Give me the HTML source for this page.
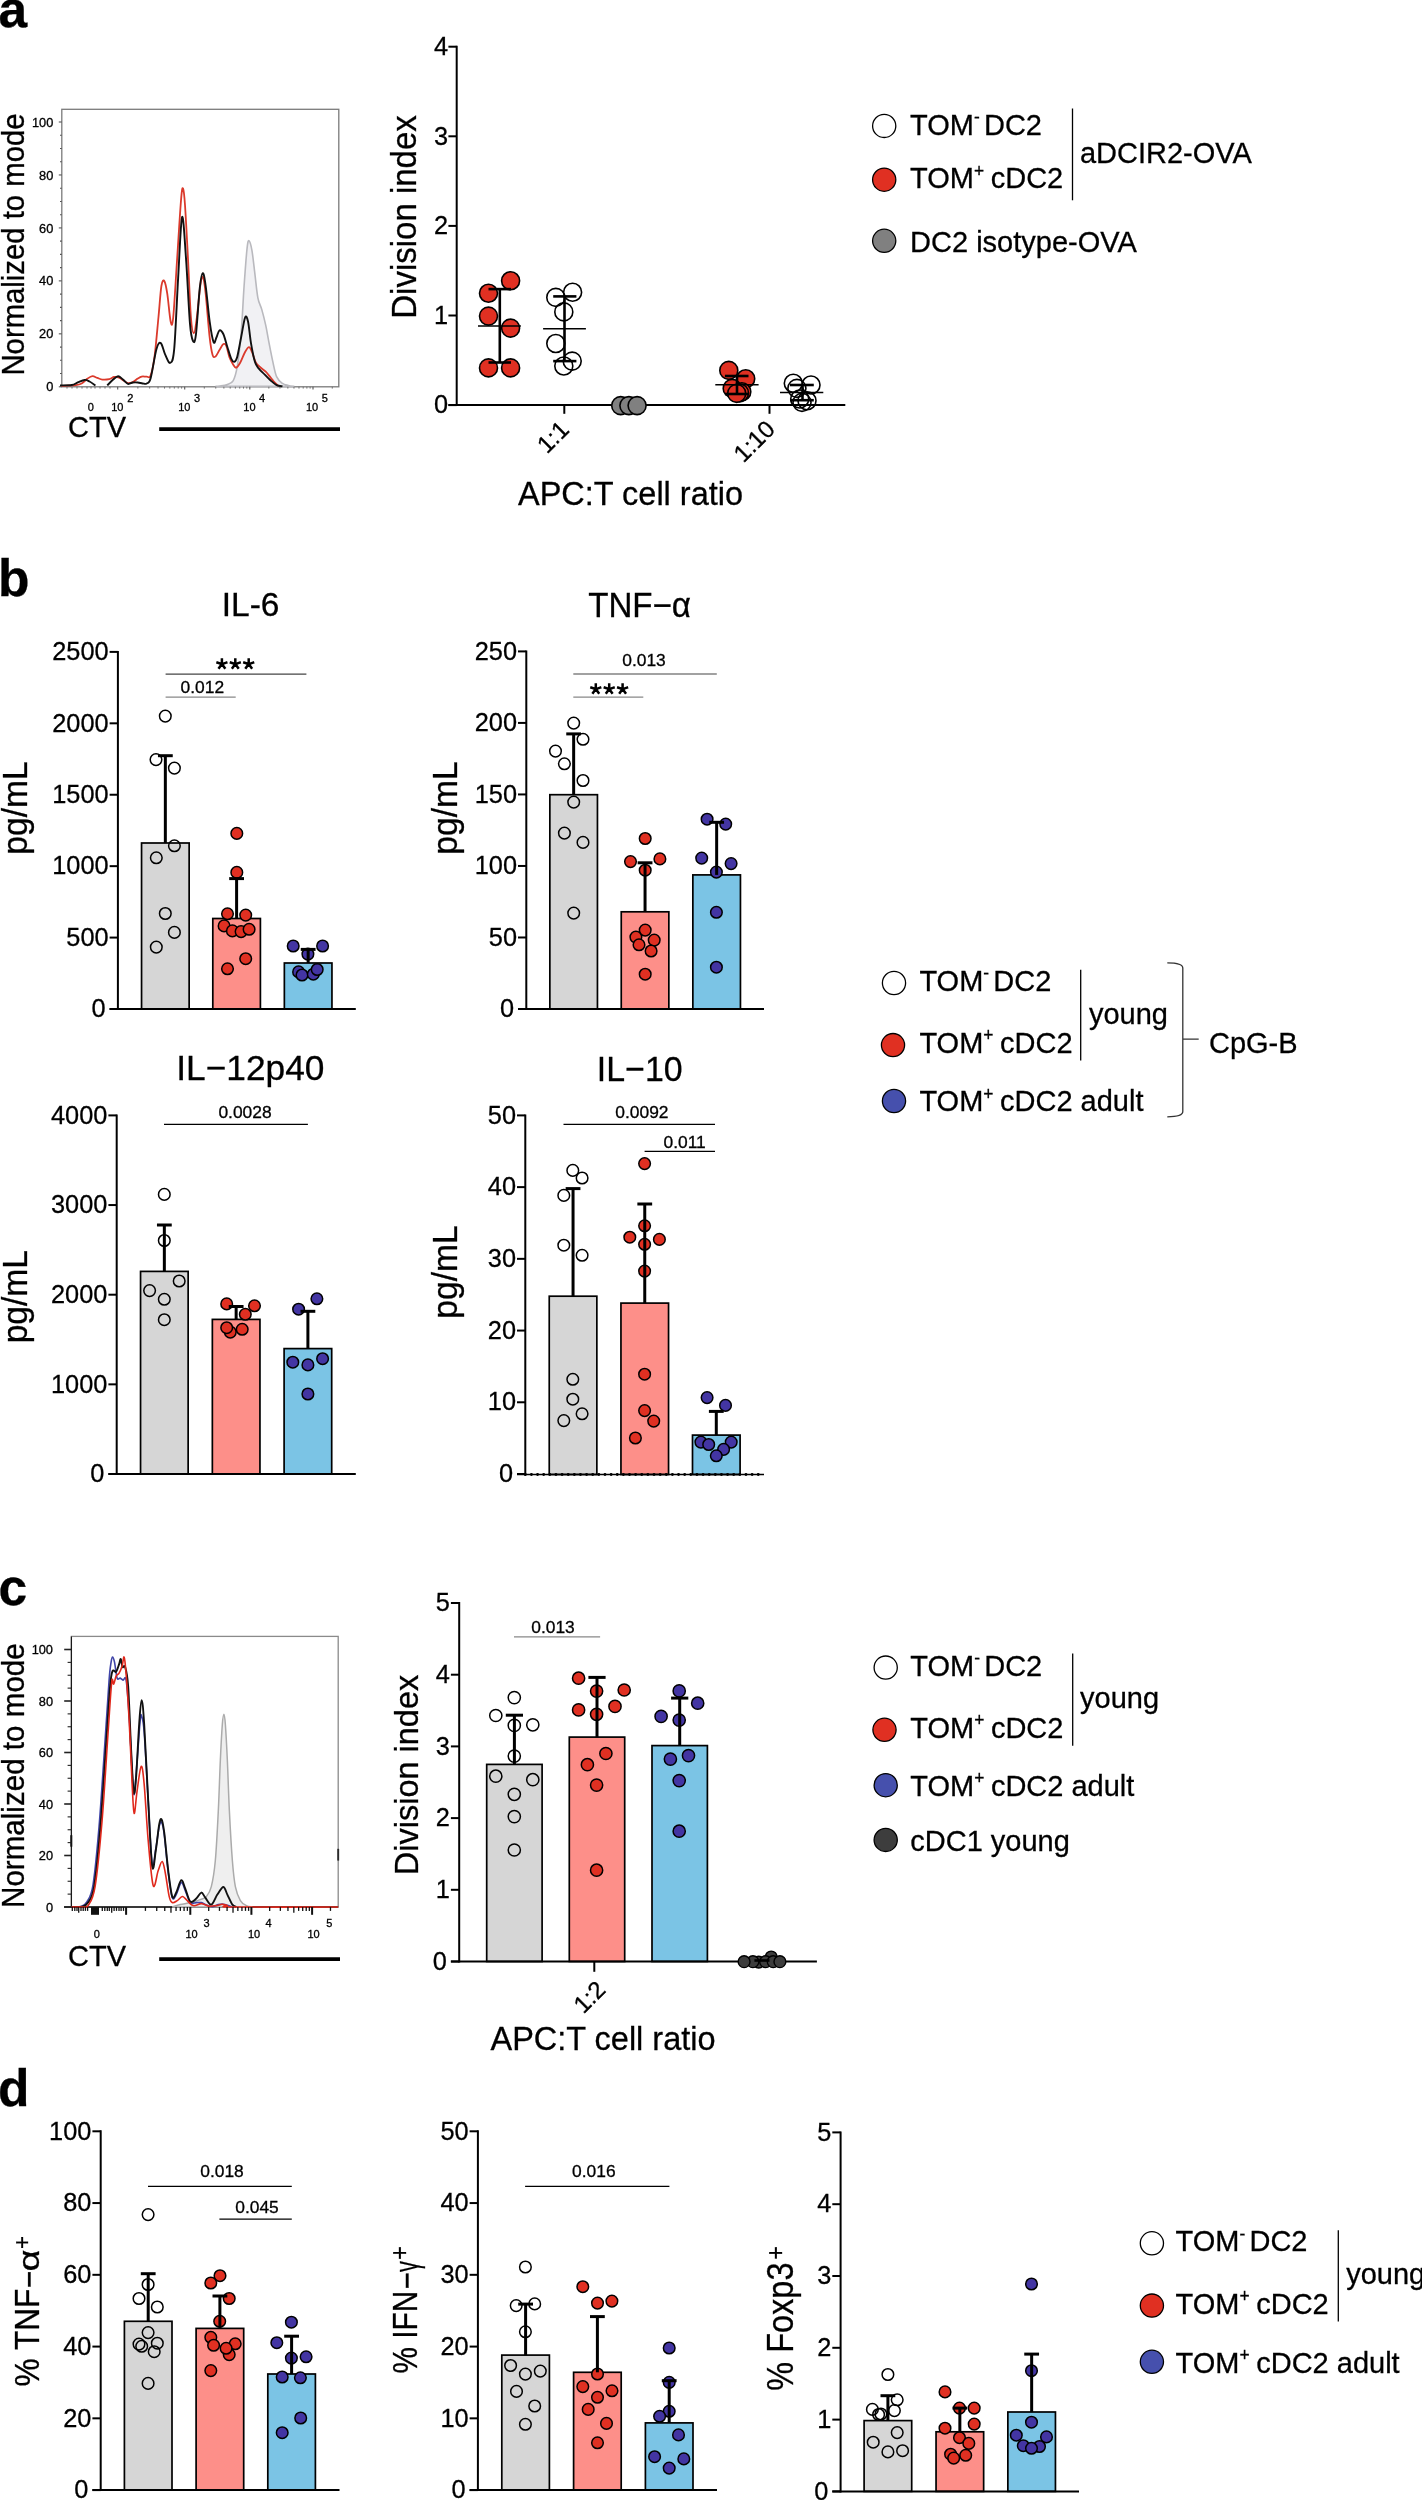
<!DOCTYPE html>
<html><head><meta charset="utf-8"><style>
html,body{margin:0;padding:0;background:#fff;}
svg{display:block;will-change:transform;}
text{font-family:"Liberation Sans",sans-serif;fill:#000;stroke:#000;stroke-width:0.3px;}
</style></head><body>
<svg width="1422" height="2500" viewBox="0 0 1422 2500">
<rect width="1422" height="2500" fill="#fff"/>
<rect x="141.55" y="843.00" width="47.60" height="166.00" fill="#d6d6d6" stroke="#000" stroke-width="1.7"/>
<rect x="212.80" y="918.50" width="47.60" height="90.50" fill="#fd8f89" stroke="#000" stroke-width="1.7"/>
<rect x="284.35" y="963.00" width="47.60" height="46.00" fill="#7bc4e5" stroke="#000" stroke-width="1.7"/>
<circle cx="165.30" cy="716.10" r="5.8" fill="none" stroke="#000" stroke-width="1.5"/>
<circle cx="156.00" cy="759.60" r="5.8" fill="none" stroke="#000" stroke-width="1.5"/>
<circle cx="174.40" cy="768.10" r="5.8" fill="none" stroke="#000" stroke-width="1.5"/>
<circle cx="174.40" cy="845.80" r="5.8" fill="none" stroke="#000" stroke-width="1.5"/>
<circle cx="156.30" cy="857.80" r="5.8" fill="none" stroke="#000" stroke-width="1.5"/>
<circle cx="165.30" cy="913.50" r="5.8" fill="none" stroke="#000" stroke-width="1.5"/>
<circle cx="174.40" cy="932.40" r="5.8" fill="none" stroke="#000" stroke-width="1.5"/>
<circle cx="156.30" cy="947.10" r="5.8" fill="none" stroke="#000" stroke-width="1.5"/>
<circle cx="236.80" cy="833.40" r="5.8" fill="#e03022" stroke="#000" stroke-width="1.5"/>
<circle cx="236.80" cy="872.40" r="5.8" fill="#e03022" stroke="#000" stroke-width="1.5"/>
<circle cx="227.50" cy="913.80" r="5.8" fill="#e03022" stroke="#000" stroke-width="1.5"/>
<circle cx="245.70" cy="915.10" r="5.8" fill="#e03022" stroke="#000" stroke-width="1.5"/>
<circle cx="224.10" cy="925.90" r="5.8" fill="#e03022" stroke="#000" stroke-width="1.5"/>
<circle cx="232.40" cy="930.90" r="5.8" fill="#e03022" stroke="#000" stroke-width="1.5"/>
<circle cx="241.10" cy="931.60" r="5.8" fill="#e03022" stroke="#000" stroke-width="1.5"/>
<circle cx="249.10" cy="929.30" r="5.8" fill="#e03022" stroke="#000" stroke-width="1.5"/>
<circle cx="245.70" cy="958.70" r="5.8" fill="#e03022" stroke="#000" stroke-width="1.5"/>
<circle cx="227.50" cy="968.80" r="5.8" fill="#e03022" stroke="#000" stroke-width="1.5"/>
<circle cx="293.20" cy="946.00" r="5.8" fill="#4335a3" stroke="#000" stroke-width="1.5"/>
<circle cx="322.60" cy="946.00" r="5.8" fill="#4335a3" stroke="#000" stroke-width="1.5"/>
<circle cx="307.90" cy="954.10" r="5.8" fill="#4335a3" stroke="#000" stroke-width="1.5"/>
<circle cx="298.60" cy="971.90" r="5.8" fill="#4335a3" stroke="#000" stroke-width="1.5"/>
<circle cx="302.00" cy="975.00" r="5.8" fill="#4335a3" stroke="#000" stroke-width="1.5"/>
<circle cx="313.30" cy="974.20" r="5.8" fill="#4335a3" stroke="#000" stroke-width="1.5"/>
<circle cx="317.20" cy="969.50" r="5.8" fill="#4335a3" stroke="#000" stroke-width="1.5"/>
<line x1="165.35" y1="755.70" x2="165.35" y2="843.00" stroke="#000" stroke-width="3.0" />
<line x1="157.95" y1="755.70" x2="172.75" y2="755.70" stroke="#000" stroke-width="3.0" />
<line x1="236.60" y1="878.60" x2="236.60" y2="918.50" stroke="#000" stroke-width="3.0" />
<line x1="229.20" y1="878.60" x2="244.00" y2="878.60" stroke="#000" stroke-width="3.0" />
<line x1="308.15" y1="949.40" x2="308.15" y2="963.00" stroke="#000" stroke-width="3.0" />
<line x1="300.75" y1="949.40" x2="315.55" y2="949.40" stroke="#000" stroke-width="3.0" />
<line x1="109.60" y1="1009.00" x2="355.80" y2="1009.00" stroke="#000" stroke-width="2" />
<line x1="117.90" y1="650.90" x2="117.90" y2="1010.00" stroke="#000" stroke-width="2" />
<line x1="109.60" y1="1009.00" x2="117.90" y2="1009.00" stroke="#000" stroke-width="2" />
<text transform="translate(105.60,1017.20) scale(0.95,1)" font-size="26.7" text-anchor="end">0</text>
<line x1="109.60" y1="937.58" x2="117.90" y2="937.58" stroke="#000" stroke-width="2" />
<text transform="translate(108.60,945.78) scale(0.95,1)" font-size="26.7" text-anchor="end">500</text>
<line x1="109.60" y1="866.16" x2="117.90" y2="866.16" stroke="#000" stroke-width="2" />
<text transform="translate(108.60,874.36) scale(0.95,1)" font-size="26.7" text-anchor="end">1000</text>
<line x1="109.60" y1="794.74" x2="117.90" y2="794.74" stroke="#000" stroke-width="2" />
<text transform="translate(108.60,802.94) scale(0.95,1)" font-size="26.7" text-anchor="end">1500</text>
<line x1="109.60" y1="723.32" x2="117.90" y2="723.32" stroke="#000" stroke-width="2" />
<text transform="translate(108.60,731.52) scale(0.95,1)" font-size="26.7" text-anchor="end">2000</text>
<line x1="109.60" y1="651.90" x2="117.90" y2="651.90" stroke="#000" stroke-width="2" />
<text transform="translate(108.60,660.10) scale(0.95,1)" font-size="26.7" text-anchor="end">2500</text>
<line x1="165.60" y1="674.20" x2="306.40" y2="674.20" stroke="#444" stroke-width="1.2" />
<path d="M221.90,664.10L221.90,659.50M221.90,664.10L226.27,662.68M221.90,664.10L224.60,667.82M221.90,664.10L219.20,667.82M221.90,664.10L217.53,662.68" stroke="#000" stroke-width="2.5" fill="none" stroke-linecap="square"/>
<path d="M235.30,664.10L235.30,659.50M235.30,664.10L239.67,662.68M235.30,664.10L238.00,667.82M235.30,664.10L232.60,667.82M235.30,664.10L230.93,662.68" stroke="#000" stroke-width="2.5" fill="none" stroke-linecap="square"/>
<path d="M248.70,664.10L248.70,659.50M248.70,664.10L253.07,662.68M248.70,664.10L251.40,667.82M248.70,664.10L246.00,667.82M248.70,664.10L244.33,662.68" stroke="#000" stroke-width="2.5" fill="none" stroke-linecap="square"/>
<line x1="165.60" y1="697.20" x2="235.70" y2="697.20" stroke="#888" stroke-width="1.2" />
<text x="202.30" y="693.40" font-size="17.4" text-anchor="middle" >0.012</text>
<text transform="translate(250.60,616.30) scale(1.0,1)" font-size="33.5" text-anchor="middle">IL-6</text>
<text transform="translate(27.10,808.00) rotate(-90) scale(0.9615,1)" font-size="34.94" text-anchor="middle" >pg/mL</text>
<rect x="549.85" y="794.70" width="47.60" height="214.30" fill="#d6d6d6" stroke="#000" stroke-width="1.7"/>
<rect x="621.25" y="911.80" width="47.60" height="97.20" fill="#fd8f89" stroke="#000" stroke-width="1.7"/>
<rect x="692.85" y="874.90" width="47.60" height="134.10" fill="#7bc4e5" stroke="#000" stroke-width="1.7"/>
<circle cx="573.70" cy="723.10" r="5.8" fill="none" stroke="#000" stroke-width="1.5"/>
<circle cx="583.00" cy="739.30" r="5.8" fill="none" stroke="#000" stroke-width="1.5"/>
<circle cx="555.50" cy="751.10" r="5.8" fill="none" stroke="#000" stroke-width="1.5"/>
<circle cx="564.40" cy="763.80" r="5.8" fill="none" stroke="#000" stroke-width="1.5"/>
<circle cx="583.00" cy="780.50" r="5.8" fill="none" stroke="#000" stroke-width="1.5"/>
<circle cx="573.70" cy="802.10" r="5.8" fill="none" stroke="#000" stroke-width="1.5"/>
<circle cx="564.40" cy="833.10" r="5.8" fill="none" stroke="#000" stroke-width="1.5"/>
<circle cx="583.00" cy="842.40" r="5.8" fill="none" stroke="#000" stroke-width="1.5"/>
<circle cx="573.70" cy="913.10" r="5.8" fill="none" stroke="#000" stroke-width="1.5"/>
<circle cx="645.20" cy="838.50" r="5.8" fill="#e03022" stroke="#000" stroke-width="1.5"/>
<circle cx="630.50" cy="861.60" r="5.8" fill="#e03022" stroke="#000" stroke-width="1.5"/>
<circle cx="659.90" cy="858.90" r="5.8" fill="#e03022" stroke="#000" stroke-width="1.5"/>
<circle cx="645.20" cy="870.20" r="5.8" fill="#e03022" stroke="#000" stroke-width="1.5"/>
<circle cx="645.20" cy="930.10" r="5.8" fill="#e03022" stroke="#000" stroke-width="1.5"/>
<circle cx="635.90" cy="937.10" r="5.8" fill="#e03022" stroke="#000" stroke-width="1.5"/>
<circle cx="654.20" cy="940.10" r="5.8" fill="#e03022" stroke="#000" stroke-width="1.5"/>
<circle cx="639.00" cy="944.80" r="5.8" fill="#e03022" stroke="#000" stroke-width="1.5"/>
<circle cx="651.10" cy="951.00" r="5.8" fill="#e03022" stroke="#000" stroke-width="1.5"/>
<circle cx="645.20" cy="974.20" r="5.8" fill="#e03022" stroke="#000" stroke-width="1.5"/>
<circle cx="707.10" cy="819.20" r="5.8" fill="#4335a3" stroke="#000" stroke-width="1.5"/>
<circle cx="725.70" cy="824.10" r="5.8" fill="#4335a3" stroke="#000" stroke-width="1.5"/>
<circle cx="701.70" cy="858.10" r="5.8" fill="#4335a3" stroke="#000" stroke-width="1.5"/>
<circle cx="731.10" cy="863.60" r="5.8" fill="#4335a3" stroke="#000" stroke-width="1.5"/>
<circle cx="716.40" cy="872.10" r="5.8" fill="#4335a3" stroke="#000" stroke-width="1.5"/>
<circle cx="716.40" cy="912.30" r="5.8" fill="#4335a3" stroke="#000" stroke-width="1.5"/>
<circle cx="716.40" cy="967.20" r="5.8" fill="#4335a3" stroke="#000" stroke-width="1.5"/>
<line x1="573.65" y1="733.90" x2="573.65" y2="794.70" stroke="#000" stroke-width="3.0" />
<line x1="566.25" y1="733.90" x2="581.05" y2="733.90" stroke="#000" stroke-width="3.0" />
<line x1="645.05" y1="862.80" x2="645.05" y2="911.80" stroke="#000" stroke-width="3.0" />
<line x1="637.65" y1="862.80" x2="652.45" y2="862.80" stroke="#000" stroke-width="3.0" />
<line x1="716.65" y1="822.30" x2="716.65" y2="874.90" stroke="#000" stroke-width="3.0" />
<line x1="709.25" y1="822.30" x2="724.05" y2="822.30" stroke="#000" stroke-width="3.0" />
<line x1="518.00" y1="1009.00" x2="764.00" y2="1009.00" stroke="#000" stroke-width="2" />
<line x1="526.30" y1="650.40" x2="526.30" y2="1010.00" stroke="#000" stroke-width="2" />
<line x1="518.00" y1="1009.00" x2="526.30" y2="1009.00" stroke="#000" stroke-width="2" />
<text transform="translate(514.00,1017.20) scale(0.95,1)" font-size="26.7" text-anchor="end">0</text>
<line x1="518.00" y1="937.48" x2="526.30" y2="937.48" stroke="#000" stroke-width="2" />
<text transform="translate(517.00,945.68) scale(0.95,1)" font-size="26.7" text-anchor="end">50</text>
<line x1="518.00" y1="865.96" x2="526.30" y2="865.96" stroke="#000" stroke-width="2" />
<text transform="translate(517.00,874.16) scale(0.95,1)" font-size="26.7" text-anchor="end">100</text>
<line x1="518.00" y1="794.44" x2="526.30" y2="794.44" stroke="#000" stroke-width="2" />
<text transform="translate(517.00,802.64) scale(0.95,1)" font-size="26.7" text-anchor="end">150</text>
<line x1="518.00" y1="722.92" x2="526.30" y2="722.92" stroke="#000" stroke-width="2" />
<text transform="translate(517.00,731.12) scale(0.95,1)" font-size="26.7" text-anchor="end">200</text>
<line x1="518.00" y1="651.40" x2="526.30" y2="651.40" stroke="#000" stroke-width="2" />
<text transform="translate(517.00,659.60) scale(0.95,1)" font-size="26.7" text-anchor="end">250</text>
<line x1="573.30" y1="674.00" x2="716.80" y2="674.00" stroke="#444" stroke-width="1.2" />
<text x="644.00" y="666.30" font-size="17.4" text-anchor="middle" >0.013</text>
<line x1="573.30" y1="697.20" x2="643.30" y2="697.20" stroke="#888" stroke-width="1.2" />
<path d="M595.80,689.10L595.80,684.50M595.80,689.10L600.17,687.68M595.80,689.10L598.50,692.82M595.80,689.10L593.10,692.82M595.80,689.10L591.43,687.68" stroke="#000" stroke-width="2.5" fill="none" stroke-linecap="square"/>
<path d="M609.20,689.10L609.20,684.50M609.20,689.10L613.57,687.68M609.20,689.10L611.90,692.82M609.20,689.10L606.50,692.82M609.20,689.10L604.83,687.68" stroke="#000" stroke-width="2.5" fill="none" stroke-linecap="square"/>
<path d="M622.60,689.10L622.60,684.50M622.60,689.10L626.97,687.68M622.60,689.10L625.30,692.82M622.60,689.10L619.90,692.82M622.60,689.10L618.23,687.68" stroke="#000" stroke-width="2.5" fill="none" stroke-linecap="square"/>
<text transform="translate(639.60,617.10) scale(0.965,1)" font-size="34.3" text-anchor="middle">TNF−α</text>
<text transform="translate(456.60,808.00) rotate(-90) scale(0.9615,1)" font-size="34.94" text-anchor="middle" >pg/mL</text>
<rect x="140.55" y="1271.40" width="47.60" height="202.60" fill="#d6d6d6" stroke="#000" stroke-width="1.7"/>
<rect x="212.35" y="1319.40" width="47.60" height="154.60" fill="#fd8f89" stroke="#000" stroke-width="1.7"/>
<rect x="284.10" y="1348.60" width="47.60" height="125.40" fill="#7bc4e5" stroke="#000" stroke-width="1.7"/>
<circle cx="164.30" cy="1194.40" r="5.8" fill="none" stroke="#000" stroke-width="1.5"/>
<circle cx="164.30" cy="1240.50" r="5.8" fill="none" stroke="#000" stroke-width="1.5"/>
<circle cx="179.20" cy="1281.00" r="5.8" fill="none" stroke="#000" stroke-width="1.5"/>
<circle cx="149.60" cy="1290.60" r="5.8" fill="none" stroke="#000" stroke-width="1.5"/>
<circle cx="164.30" cy="1299.30" r="5.8" fill="none" stroke="#000" stroke-width="1.5"/>
<circle cx="164.30" cy="1319.70" r="5.8" fill="none" stroke="#000" stroke-width="1.5"/>
<circle cx="226.70" cy="1303.90" r="5.8" fill="#e03022" stroke="#000" stroke-width="1.5"/>
<circle cx="254.50" cy="1305.80" r="5.8" fill="#e03022" stroke="#000" stroke-width="1.5"/>
<circle cx="245.30" cy="1314.30" r="5.8" fill="#e03022" stroke="#000" stroke-width="1.5"/>
<circle cx="230.30" cy="1332.10" r="5.8" fill="#e03022" stroke="#000" stroke-width="1.5"/>
<circle cx="226.70" cy="1327.70" r="5.8" fill="#e03022" stroke="#000" stroke-width="1.5"/>
<circle cx="242.20" cy="1329.30" r="5.8" fill="#e03022" stroke="#000" stroke-width="1.5"/>
<circle cx="316.90" cy="1298.80" r="5.8" fill="#4335a3" stroke="#000" stroke-width="1.5"/>
<circle cx="298.60" cy="1309.20" r="5.8" fill="#4335a3" stroke="#000" stroke-width="1.5"/>
<circle cx="292.80" cy="1362.20" r="5.8" fill="#4335a3" stroke="#000" stroke-width="1.5"/>
<circle cx="307.90" cy="1364.90" r="5.8" fill="#4335a3" stroke="#000" stroke-width="1.5"/>
<circle cx="322.60" cy="1358.70" r="5.8" fill="#4335a3" stroke="#000" stroke-width="1.5"/>
<circle cx="307.90" cy="1394.00" r="5.8" fill="#4335a3" stroke="#000" stroke-width="1.5"/>
<line x1="164.35" y1="1225.00" x2="164.35" y2="1271.40" stroke="#000" stroke-width="3.0" />
<line x1="156.95" y1="1225.00" x2="171.75" y2="1225.00" stroke="#000" stroke-width="3.0" />
<line x1="236.15" y1="1306.50" x2="236.15" y2="1319.40" stroke="#000" stroke-width="3.0" />
<line x1="228.75" y1="1306.50" x2="243.55" y2="1306.50" stroke="#000" stroke-width="3.0" />
<line x1="307.90" y1="1311.30" x2="307.90" y2="1348.60" stroke="#000" stroke-width="3.0" />
<line x1="300.50" y1="1311.30" x2="315.30" y2="1311.30" stroke="#000" stroke-width="3.0" />
<line x1="108.40" y1="1474.00" x2="355.80" y2="1474.00" stroke="#000" stroke-width="2" />
<line x1="116.70" y1="1114.40" x2="116.70" y2="1475.00" stroke="#000" stroke-width="2" />
<line x1="108.40" y1="1474.00" x2="116.70" y2="1474.00" stroke="#000" stroke-width="2" />
<text transform="translate(104.40,1482.20) scale(0.95,1)" font-size="26.7" text-anchor="end">0</text>
<line x1="108.40" y1="1384.35" x2="116.70" y2="1384.35" stroke="#000" stroke-width="2" />
<text transform="translate(107.40,1392.55) scale(0.95,1)" font-size="26.7" text-anchor="end">1000</text>
<line x1="108.40" y1="1294.70" x2="116.70" y2="1294.70" stroke="#000" stroke-width="2" />
<text transform="translate(107.40,1302.90) scale(0.95,1)" font-size="26.7" text-anchor="end">2000</text>
<line x1="108.40" y1="1205.05" x2="116.70" y2="1205.05" stroke="#000" stroke-width="2" />
<text transform="translate(107.40,1213.25) scale(0.95,1)" font-size="26.7" text-anchor="end">3000</text>
<line x1="108.40" y1="1115.40" x2="116.70" y2="1115.40" stroke="#000" stroke-width="2" />
<text transform="translate(107.40,1123.60) scale(0.95,1)" font-size="26.7" text-anchor="end">4000</text>
<line x1="164.00" y1="1124.40" x2="307.90" y2="1124.40" stroke="#000" stroke-width="1.2" />
<text x="245.00" y="1117.80" font-size="17.4" text-anchor="middle" >0.0028</text>
<text transform="translate(250.35,1080.40) scale(0.995,1)" font-size="35.5" text-anchor="middle">IL−12p40</text>
<text transform="translate(27.10,1296.70) rotate(-90) scale(0.9615,1)" font-size="34.94" text-anchor="middle" >pg/mL</text>
<rect x="549.25" y="1296.20" width="47.60" height="178.30" fill="#d6d6d6" stroke="#000" stroke-width="1.7"/>
<rect x="620.95" y="1303.10" width="47.60" height="171.40" fill="#fd8f89" stroke="#000" stroke-width="1.7"/>
<rect x="692.50" y="1435.10" width="47.60" height="39.40" fill="#7bc4e5" stroke="#000" stroke-width="1.7"/>
<circle cx="572.80" cy="1170.40" r="5.8" fill="none" stroke="#000" stroke-width="1.5"/>
<circle cx="582.10" cy="1178.00" r="5.8" fill="none" stroke="#000" stroke-width="1.5"/>
<circle cx="563.80" cy="1195.40" r="5.8" fill="none" stroke="#000" stroke-width="1.5"/>
<circle cx="563.80" cy="1245.20" r="5.8" fill="none" stroke="#000" stroke-width="1.5"/>
<circle cx="582.10" cy="1255.30" r="5.8" fill="none" stroke="#000" stroke-width="1.5"/>
<circle cx="572.80" cy="1379.30" r="5.8" fill="none" stroke="#000" stroke-width="1.5"/>
<circle cx="572.80" cy="1399.20" r="5.8" fill="none" stroke="#000" stroke-width="1.5"/>
<circle cx="582.10" cy="1413.80" r="5.8" fill="none" stroke="#000" stroke-width="1.5"/>
<circle cx="563.80" cy="1420.60" r="5.8" fill="none" stroke="#000" stroke-width="1.5"/>
<circle cx="644.60" cy="1163.60" r="5.8" fill="#e03022" stroke="#000" stroke-width="1.5"/>
<circle cx="644.60" cy="1225.80" r="5.8" fill="#e03022" stroke="#000" stroke-width="1.5"/>
<circle cx="629.80" cy="1237.20" r="5.8" fill="#e03022" stroke="#000" stroke-width="1.5"/>
<circle cx="659.40" cy="1239.40" r="5.8" fill="#e03022" stroke="#000" stroke-width="1.5"/>
<circle cx="644.60" cy="1244.30" r="5.8" fill="#e03022" stroke="#000" stroke-width="1.5"/>
<circle cx="644.60" cy="1271.10" r="5.8" fill="#e03022" stroke="#000" stroke-width="1.5"/>
<circle cx="644.60" cy="1374.20" r="5.8" fill="#e03022" stroke="#000" stroke-width="1.5"/>
<circle cx="644.60" cy="1410.60" r="5.8" fill="#e03022" stroke="#000" stroke-width="1.5"/>
<circle cx="653.70" cy="1421.10" r="5.8" fill="#e03022" stroke="#000" stroke-width="1.5"/>
<circle cx="635.40" cy="1438.00" r="5.8" fill="#e03022" stroke="#000" stroke-width="1.5"/>
<circle cx="707.10" cy="1397.60" r="5.8" fill="#4335a3" stroke="#000" stroke-width="1.5"/>
<circle cx="725.50" cy="1405.40" r="5.8" fill="#4335a3" stroke="#000" stroke-width="1.5"/>
<circle cx="700.90" cy="1442.10" r="5.8" fill="#4335a3" stroke="#000" stroke-width="1.5"/>
<circle cx="708.70" cy="1444.50" r="5.8" fill="#4335a3" stroke="#000" stroke-width="1.5"/>
<circle cx="731.20" cy="1442.10" r="5.8" fill="#4335a3" stroke="#000" stroke-width="1.5"/>
<circle cx="723.60" cy="1449.40" r="5.8" fill="#4335a3" stroke="#000" stroke-width="1.5"/>
<circle cx="716.30" cy="1455.80" r="5.8" fill="#4335a3" stroke="#000" stroke-width="1.5"/>
<line x1="573.05" y1="1188.60" x2="573.05" y2="1296.20" stroke="#000" stroke-width="3.0" />
<line x1="565.65" y1="1188.60" x2="580.45" y2="1188.60" stroke="#000" stroke-width="3.0" />
<line x1="644.75" y1="1204.00" x2="644.75" y2="1303.10" stroke="#000" stroke-width="3.0" />
<line x1="637.35" y1="1204.00" x2="652.15" y2="1204.00" stroke="#000" stroke-width="3.0" />
<line x1="716.30" y1="1411.40" x2="716.30" y2="1435.10" stroke="#000" stroke-width="3.0" />
<line x1="708.90" y1="1411.40" x2="723.70" y2="1411.40" stroke="#000" stroke-width="3.0" />
<line x1="517.00" y1="1474.50" x2="764.00" y2="1474.50" stroke="#000" stroke-width="1.6" />
<line x1="525.30" y1="1474.50" x2="764.00" y2="1474.50" stroke="#000" stroke-width="2.9" stroke-dasharray="0 6.13" stroke-linecap="round"/>
<line x1="525.30" y1="1114.40" x2="525.30" y2="1475.50" stroke="#000" stroke-width="2" />
<line x1="517.00" y1="1474.00" x2="525.30" y2="1474.00" stroke="#000" stroke-width="2" />
<text transform="translate(513.00,1482.20) scale(0.95,1)" font-size="26.7" text-anchor="end">0</text>
<line x1="517.00" y1="1402.28" x2="525.30" y2="1402.28" stroke="#000" stroke-width="2" />
<text transform="translate(516.00,1410.48) scale(0.95,1)" font-size="26.7" text-anchor="end">10</text>
<line x1="517.00" y1="1330.56" x2="525.30" y2="1330.56" stroke="#000" stroke-width="2" />
<text transform="translate(516.00,1338.76) scale(0.95,1)" font-size="26.7" text-anchor="end">20</text>
<line x1="517.00" y1="1258.84" x2="525.30" y2="1258.84" stroke="#000" stroke-width="2" />
<text transform="translate(516.00,1267.04) scale(0.95,1)" font-size="26.7" text-anchor="end">30</text>
<line x1="517.00" y1="1187.12" x2="525.30" y2="1187.12" stroke="#000" stroke-width="2" />
<text transform="translate(516.00,1195.32) scale(0.95,1)" font-size="26.7" text-anchor="end">40</text>
<line x1="517.00" y1="1115.40" x2="525.30" y2="1115.40" stroke="#000" stroke-width="2" />
<text transform="translate(516.00,1123.60) scale(0.95,1)" font-size="26.7" text-anchor="end">50</text>
<line x1="563.50" y1="1124.30" x2="715.00" y2="1124.30" stroke="#000" stroke-width="1.2" />
<text x="641.90" y="1117.50" font-size="17.4" text-anchor="middle" >0.0092</text>
<line x1="644.60" y1="1151.40" x2="715.00" y2="1151.40" stroke="#000" stroke-width="1.2" />
<text x="684.60" y="1147.70" font-size="17.4" text-anchor="middle" >0.011</text>
<text transform="translate(639.70,1080.60) scale(0.955,1)" font-size="35.5" text-anchor="middle">IL−10</text>
<text transform="translate(456.60,1272.00) rotate(-90) scale(0.9615,1)" font-size="34.94" text-anchor="middle" >pg/mL</text>
<rect x="124.40" y="2321.30" width="47.60" height="168.80" fill="#d6d6d6" stroke="#000" stroke-width="1.7"/>
<rect x="196.10" y="2328.40" width="47.60" height="161.70" fill="#fd8f89" stroke="#000" stroke-width="1.7"/>
<rect x="267.80" y="2374.00" width="47.60" height="116.10" fill="#7bc4e5" stroke="#000" stroke-width="1.7"/>
<circle cx="148.10" cy="2214.60" r="5.8" fill="none" stroke="#000" stroke-width="1.5"/>
<circle cx="148.10" cy="2284.50" r="5.8" fill="none" stroke="#000" stroke-width="1.5"/>
<circle cx="139.00" cy="2298.50" r="5.8" fill="none" stroke="#000" stroke-width="1.5"/>
<circle cx="157.30" cy="2307.00" r="5.8" fill="none" stroke="#000" stroke-width="1.5"/>
<circle cx="148.10" cy="2332.60" r="5.8" fill="none" stroke="#000" stroke-width="1.5"/>
<circle cx="139.00" cy="2344.10" r="5.8" fill="none" stroke="#000" stroke-width="1.5"/>
<circle cx="157.30" cy="2343.20" r="5.8" fill="none" stroke="#000" stroke-width="1.5"/>
<circle cx="141.70" cy="2346.30" r="5.8" fill="none" stroke="#000" stroke-width="1.5"/>
<circle cx="154.20" cy="2351.70" r="5.8" fill="none" stroke="#000" stroke-width="1.5"/>
<circle cx="148.10" cy="2383.40" r="5.8" fill="none" stroke="#000" stroke-width="1.5"/>
<circle cx="220.00" cy="2275.70" r="5.8" fill="#e03022" stroke="#000" stroke-width="1.5"/>
<circle cx="210.80" cy="2283.00" r="5.8" fill="#e03022" stroke="#000" stroke-width="1.5"/>
<circle cx="229.20" cy="2298.50" r="5.8" fill="#e03022" stroke="#000" stroke-width="1.5"/>
<circle cx="219.70" cy="2321.30" r="5.8" fill="#e03022" stroke="#000" stroke-width="1.5"/>
<circle cx="210.80" cy="2337.30" r="5.8" fill="#e03022" stroke="#000" stroke-width="1.5"/>
<circle cx="235.20" cy="2343.80" r="5.8" fill="#e03022" stroke="#000" stroke-width="1.5"/>
<circle cx="213.60" cy="2345.30" r="5.8" fill="#e03022" stroke="#000" stroke-width="1.5"/>
<circle cx="229.20" cy="2354.60" r="5.8" fill="#e03022" stroke="#000" stroke-width="1.5"/>
<circle cx="226.10" cy="2348.30" r="5.8" fill="#e03022" stroke="#000" stroke-width="1.5"/>
<circle cx="210.80" cy="2370.60" r="5.8" fill="#e03022" stroke="#000" stroke-width="1.5"/>
<circle cx="291.40" cy="2322.20" r="5.8" fill="#4335a3" stroke="#000" stroke-width="1.5"/>
<circle cx="276.80" cy="2342.70" r="5.8" fill="#4335a3" stroke="#000" stroke-width="1.5"/>
<circle cx="306.10" cy="2356.80" r="5.8" fill="#4335a3" stroke="#000" stroke-width="1.5"/>
<circle cx="291.40" cy="2358.10" r="5.8" fill="#4335a3" stroke="#000" stroke-width="1.5"/>
<circle cx="282.20" cy="2377.00" r="5.8" fill="#4335a3" stroke="#000" stroke-width="1.5"/>
<circle cx="300.40" cy="2377.80" r="5.8" fill="#4335a3" stroke="#000" stroke-width="1.5"/>
<circle cx="300.70" cy="2418.00" r="5.8" fill="#4335a3" stroke="#000" stroke-width="1.5"/>
<circle cx="282.20" cy="2432.70" r="5.8" fill="#4335a3" stroke="#000" stroke-width="1.5"/>
<line x1="148.20" y1="2273.70" x2="148.20" y2="2321.30" stroke="#000" stroke-width="3.0" />
<line x1="140.80" y1="2273.70" x2="155.60" y2="2273.70" stroke="#000" stroke-width="3.0" />
<line x1="219.90" y1="2296.00" x2="219.90" y2="2328.40" stroke="#000" stroke-width="3.0" />
<line x1="212.50" y1="2296.00" x2="227.30" y2="2296.00" stroke="#000" stroke-width="3.0" />
<line x1="291.60" y1="2336.20" x2="291.60" y2="2374.00" stroke="#000" stroke-width="3.0" />
<line x1="284.20" y1="2336.20" x2="299.00" y2="2336.20" stroke="#000" stroke-width="3.0" />
<line x1="92.40" y1="2490.10" x2="339.50" y2="2490.10" stroke="#000" stroke-width="2" />
<line x1="100.70" y1="2130.30" x2="100.70" y2="2491.10" stroke="#000" stroke-width="2" />
<line x1="92.40" y1="2490.10" x2="100.70" y2="2490.10" stroke="#000" stroke-width="2" />
<text transform="translate(88.40,2498.30) scale(0.95,1)" font-size="26.7" text-anchor="end">0</text>
<line x1="92.40" y1="2418.34" x2="100.70" y2="2418.34" stroke="#000" stroke-width="2" />
<text transform="translate(91.40,2426.54) scale(0.95,1)" font-size="26.7" text-anchor="end">20</text>
<line x1="92.40" y1="2346.58" x2="100.70" y2="2346.58" stroke="#000" stroke-width="2" />
<text transform="translate(91.40,2354.78) scale(0.95,1)" font-size="26.7" text-anchor="end">40</text>
<line x1="92.40" y1="2274.82" x2="100.70" y2="2274.82" stroke="#000" stroke-width="2" />
<text transform="translate(91.40,2283.02) scale(0.95,1)" font-size="26.7" text-anchor="end">60</text>
<line x1="92.40" y1="2203.06" x2="100.70" y2="2203.06" stroke="#000" stroke-width="2" />
<text transform="translate(91.40,2211.26) scale(0.95,1)" font-size="26.7" text-anchor="end">80</text>
<line x1="92.40" y1="2131.30" x2="100.70" y2="2131.30" stroke="#000" stroke-width="2" />
<text transform="translate(91.40,2139.50) scale(0.95,1)" font-size="26.7" text-anchor="end">100</text>
<line x1="148.00" y1="2186.30" x2="291.80" y2="2186.30" stroke="#000" stroke-width="1.2" />
<text x="222.00" y="2177.30" font-size="17.4" text-anchor="middle" >0.018</text>
<line x1="219.40" y1="2219.20" x2="291.80" y2="2219.20" stroke="#000" stroke-width="1.2" />
<text x="257.00" y="2212.80" font-size="17.4" text-anchor="middle" >0.045</text>
<rect x="501.80" y="2355.10" width="47.60" height="135.00" fill="#d6d6d6" stroke="#000" stroke-width="1.7"/>
<rect x="573.60" y="2372.30" width="47.60" height="117.80" fill="#fd8f89" stroke="#000" stroke-width="1.7"/>
<rect x="645.40" y="2422.90" width="47.60" height="67.20" fill="#7bc4e5" stroke="#000" stroke-width="1.7"/>
<circle cx="525.40" cy="2267.00" r="5.8" fill="none" stroke="#000" stroke-width="1.5"/>
<circle cx="516.20" cy="2305.60" r="5.8" fill="none" stroke="#000" stroke-width="1.5"/>
<circle cx="534.70" cy="2303.90" r="5.8" fill="none" stroke="#000" stroke-width="1.5"/>
<circle cx="525.40" cy="2331.80" r="5.8" fill="none" stroke="#000" stroke-width="1.5"/>
<circle cx="510.60" cy="2365.50" r="5.8" fill="none" stroke="#000" stroke-width="1.5"/>
<circle cx="540.30" cy="2371.10" r="5.8" fill="none" stroke="#000" stroke-width="1.5"/>
<circle cx="525.40" cy="2374.10" r="5.8" fill="none" stroke="#000" stroke-width="1.5"/>
<circle cx="516.50" cy="2391.40" r="5.8" fill="none" stroke="#000" stroke-width="1.5"/>
<circle cx="534.70" cy="2406.00" r="5.8" fill="none" stroke="#000" stroke-width="1.5"/>
<circle cx="525.40" cy="2424.30" r="5.8" fill="none" stroke="#000" stroke-width="1.5"/>
<circle cx="582.80" cy="2286.70" r="5.8" fill="#e03022" stroke="#000" stroke-width="1.5"/>
<circle cx="597.50" cy="2303.10" r="5.8" fill="#e03022" stroke="#000" stroke-width="1.5"/>
<circle cx="611.90" cy="2301.10" r="5.8" fill="#e03022" stroke="#000" stroke-width="1.5"/>
<circle cx="597.50" cy="2374.00" r="5.8" fill="#e03022" stroke="#000" stroke-width="1.5"/>
<circle cx="582.80" cy="2386.60" r="5.8" fill="#e03022" stroke="#000" stroke-width="1.5"/>
<circle cx="612.00" cy="2390.80" r="5.8" fill="#e03022" stroke="#000" stroke-width="1.5"/>
<circle cx="597.50" cy="2397.30" r="5.8" fill="#e03022" stroke="#000" stroke-width="1.5"/>
<circle cx="588.20" cy="2409.40" r="5.8" fill="#e03022" stroke="#000" stroke-width="1.5"/>
<circle cx="606.50" cy="2423.40" r="5.8" fill="#e03022" stroke="#000" stroke-width="1.5"/>
<circle cx="597.50" cy="2442.80" r="5.8" fill="#e03022" stroke="#000" stroke-width="1.5"/>
<circle cx="669.20" cy="2348.00" r="5.8" fill="#4335a3" stroke="#000" stroke-width="1.5"/>
<circle cx="669.20" cy="2382.40" r="5.8" fill="#4335a3" stroke="#000" stroke-width="1.5"/>
<circle cx="669.20" cy="2411.30" r="5.8" fill="#4335a3" stroke="#000" stroke-width="1.5"/>
<circle cx="659.60" cy="2416.30" r="5.8" fill="#4335a3" stroke="#000" stroke-width="1.5"/>
<circle cx="678.50" cy="2434.90" r="5.8" fill="#4335a3" stroke="#000" stroke-width="1.5"/>
<circle cx="654.60" cy="2456.70" r="5.8" fill="#4335a3" stroke="#000" stroke-width="1.5"/>
<circle cx="683.80" cy="2458.90" r="5.8" fill="#4335a3" stroke="#000" stroke-width="1.5"/>
<circle cx="669.20" cy="2468.10" r="5.8" fill="#4335a3" stroke="#000" stroke-width="1.5"/>
<line x1="525.60" y1="2304.10" x2="525.60" y2="2355.10" stroke="#000" stroke-width="3.0" />
<line x1="518.20" y1="2304.10" x2="533.00" y2="2304.10" stroke="#000" stroke-width="3.0" />
<line x1="597.40" y1="2316.60" x2="597.40" y2="2372.30" stroke="#000" stroke-width="3.0" />
<line x1="590.00" y1="2316.60" x2="604.80" y2="2316.60" stroke="#000" stroke-width="3.0" />
<line x1="669.20" y1="2380.70" x2="669.20" y2="2422.90" stroke="#000" stroke-width="3.0" />
<line x1="661.80" y1="2380.70" x2="676.60" y2="2380.70" stroke="#000" stroke-width="3.0" />
<line x1="469.60" y1="2490.10" x2="717.00" y2="2490.10" stroke="#000" stroke-width="2" />
<line x1="477.90" y1="2130.30" x2="477.90" y2="2491.10" stroke="#000" stroke-width="2" />
<line x1="469.60" y1="2490.10" x2="477.90" y2="2490.10" stroke="#000" stroke-width="2" />
<text transform="translate(465.60,2498.30) scale(0.95,1)" font-size="26.7" text-anchor="end">0</text>
<line x1="469.60" y1="2418.34" x2="477.90" y2="2418.34" stroke="#000" stroke-width="2" />
<text transform="translate(468.60,2426.54) scale(0.95,1)" font-size="26.7" text-anchor="end">10</text>
<line x1="469.60" y1="2346.58" x2="477.90" y2="2346.58" stroke="#000" stroke-width="2" />
<text transform="translate(468.60,2354.78) scale(0.95,1)" font-size="26.7" text-anchor="end">20</text>
<line x1="469.60" y1="2274.82" x2="477.90" y2="2274.82" stroke="#000" stroke-width="2" />
<text transform="translate(468.60,2283.02) scale(0.95,1)" font-size="26.7" text-anchor="end">30</text>
<line x1="469.60" y1="2203.06" x2="477.90" y2="2203.06" stroke="#000" stroke-width="2" />
<text transform="translate(468.60,2211.26) scale(0.95,1)" font-size="26.7" text-anchor="end">40</text>
<line x1="469.60" y1="2131.30" x2="477.90" y2="2131.30" stroke="#000" stroke-width="2" />
<text transform="translate(468.60,2139.50) scale(0.95,1)" font-size="26.7" text-anchor="end">50</text>
<line x1="525.10" y1="2186.30" x2="669.40" y2="2186.30" stroke="#000" stroke-width="1.2" />
<text x="593.80" y="2177.30" font-size="17.4" text-anchor="middle" >0.016</text>
<rect x="864.10" y="2420.60" width="47.60" height="70.80" fill="#d6d6d6" stroke="#000" stroke-width="1.7"/>
<rect x="936.05" y="2431.80" width="47.60" height="59.60" fill="#fd8f89" stroke="#000" stroke-width="1.7"/>
<rect x="1007.85" y="2412.00" width="47.60" height="79.40" fill="#7bc4e5" stroke="#000" stroke-width="1.7"/>
<circle cx="887.90" cy="2374.50" r="5.8" fill="none" stroke="#000" stroke-width="1.5"/>
<circle cx="897.20" cy="2399.80" r="5.8" fill="none" stroke="#000" stroke-width="1.5"/>
<circle cx="872.40" cy="2409.40" r="5.8" fill="none" stroke="#000" stroke-width="1.5"/>
<circle cx="894.40" cy="2410.60" r="5.8" fill="none" stroke="#000" stroke-width="1.5"/>
<circle cx="880.90" cy="2414.00" r="5.8" fill="none" stroke="#000" stroke-width="1.5"/>
<circle cx="878.60" cy="2414.50" r="5.8" fill="none" stroke="#000" stroke-width="1.5"/>
<circle cx="897.20" cy="2432.60" r="5.8" fill="none" stroke="#000" stroke-width="1.5"/>
<circle cx="873.20" cy="2442.20" r="5.8" fill="none" stroke="#000" stroke-width="1.5"/>
<circle cx="887.90" cy="2451.90" r="5.8" fill="none" stroke="#000" stroke-width="1.5"/>
<circle cx="902.60" cy="2450.70" r="5.8" fill="none" stroke="#000" stroke-width="1.5"/>
<circle cx="945.00" cy="2391.90" r="5.8" fill="#e03022" stroke="#000" stroke-width="1.5"/>
<circle cx="959.50" cy="2408.10" r="5.8" fill="#e03022" stroke="#000" stroke-width="1.5"/>
<circle cx="974.20" cy="2408.10" r="5.8" fill="#e03022" stroke="#000" stroke-width="1.5"/>
<circle cx="974.20" cy="2424.10" r="5.8" fill="#e03022" stroke="#000" stroke-width="1.5"/>
<circle cx="945.00" cy="2428.20" r="5.8" fill="#e03022" stroke="#000" stroke-width="1.5"/>
<circle cx="959.50" cy="2437.70" r="5.8" fill="#e03022" stroke="#000" stroke-width="1.5"/>
<circle cx="968.80" cy="2443.40" r="5.8" fill="#e03022" stroke="#000" stroke-width="1.5"/>
<circle cx="950.60" cy="2454.20" r="5.8" fill="#e03022" stroke="#000" stroke-width="1.5"/>
<circle cx="965.70" cy="2455.30" r="5.8" fill="#e03022" stroke="#000" stroke-width="1.5"/>
<circle cx="953.70" cy="2458.10" r="5.8" fill="#e03022" stroke="#000" stroke-width="1.5"/>
<circle cx="1031.50" cy="2284.00" r="5.8" fill="#4335a3" stroke="#000" stroke-width="1.5"/>
<circle cx="1031.50" cy="2370.70" r="5.8" fill="#4335a3" stroke="#000" stroke-width="1.5"/>
<circle cx="1031.50" cy="2422.20" r="5.8" fill="#4335a3" stroke="#000" stroke-width="1.5"/>
<circle cx="1016.30" cy="2435.20" r="5.8" fill="#4335a3" stroke="#000" stroke-width="1.5"/>
<circle cx="1046.50" cy="2436.90" r="5.8" fill="#4335a3" stroke="#000" stroke-width="1.5"/>
<circle cx="1023.30" cy="2445.70" r="5.8" fill="#4335a3" stroke="#000" stroke-width="1.5"/>
<circle cx="1039.50" cy="2446.50" r="5.8" fill="#4335a3" stroke="#000" stroke-width="1.5"/>
<circle cx="1031.50" cy="2448.30" r="5.8" fill="#4335a3" stroke="#000" stroke-width="1.5"/>
<line x1="887.90" y1="2395.70" x2="887.90" y2="2420.60" stroke="#000" stroke-width="3.0" />
<line x1="880.50" y1="2395.70" x2="895.30" y2="2395.70" stroke="#000" stroke-width="3.0" />
<line x1="959.85" y1="2408.10" x2="959.85" y2="2431.80" stroke="#000" stroke-width="3.0" />
<line x1="952.45" y1="2408.10" x2="967.25" y2="2408.10" stroke="#000" stroke-width="3.0" />
<line x1="1031.65" y1="2354.10" x2="1031.65" y2="2412.00" stroke="#000" stroke-width="3.0" />
<line x1="1024.25" y1="2354.10" x2="1039.05" y2="2354.10" stroke="#000" stroke-width="3.0" />
<line x1="832.30" y1="2491.40" x2="1079.00" y2="2491.40" stroke="#000" stroke-width="2" />
<line x1="840.60" y1="2131.40" x2="840.60" y2="2492.40" stroke="#000" stroke-width="2" />
<line x1="832.30" y1="2491.40" x2="840.60" y2="2491.40" stroke="#000" stroke-width="2" />
<text transform="translate(828.30,2499.60) scale(0.95,1)" font-size="26.7" text-anchor="end">0</text>
<line x1="832.30" y1="2419.60" x2="840.60" y2="2419.60" stroke="#000" stroke-width="2" />
<text transform="translate(831.30,2427.80) scale(0.95,1)" font-size="26.7" text-anchor="end">1</text>
<line x1="832.30" y1="2347.80" x2="840.60" y2="2347.80" stroke="#000" stroke-width="2" />
<text transform="translate(831.30,2356.00) scale(0.95,1)" font-size="26.7" text-anchor="end">2</text>
<line x1="832.30" y1="2276.00" x2="840.60" y2="2276.00" stroke="#000" stroke-width="2" />
<text transform="translate(831.30,2284.20) scale(0.95,1)" font-size="26.7" text-anchor="end">3</text>
<line x1="832.30" y1="2204.20" x2="840.60" y2="2204.20" stroke="#000" stroke-width="2" />
<text transform="translate(831.30,2212.40) scale(0.95,1)" font-size="26.7" text-anchor="end">4</text>
<line x1="832.30" y1="2132.40" x2="840.60" y2="2132.40" stroke="#000" stroke-width="2" />
<text transform="translate(831.30,2140.60) scale(0.95,1)" font-size="26.7" text-anchor="end">5</text>
<text transform="translate(39.00,2385.50) rotate(-90) scale(0.9022,1)" x="-1.05" y="0" font-size="35.05">% TNF</text>
<text transform="translate(40.80,2286.90) rotate(-90) scale(0.8501,1)" x="-1.75" y="0" font-size="35.05">−</text>
<text transform="translate(39.00,2269.90) rotate(-90) scale(1.2877,1)" x="-1.18" y="0" font-size="29.54">α</text>
<text transform="translate(29.90,2247.80) rotate(-90) scale(0.9024,1)" x="-1.23" y="0" font-size="24.65">+</text>
<text transform="translate(417.10,2372.70) rotate(-90) scale(0.8368,1)" x="-1.07" y="0" font-size="35.67">% IFN</text>
<text transform="translate(419.00,2287.90) rotate(-90) scale(0.8239,1)" x="-1.78" y="0" font-size="35.67">−</text>
<text transform="translate(418.10,2271.90) rotate(-90) scale(0.6550,1)" x="0.00" y="0" font-size="33.28">γ</text>
<text transform="translate(407.90,2258.80) rotate(-90) scale(0.9648,1)" x="-1.25" y="0" font-size="24.96">+</text>
<text transform="translate(792.90,2389.70) rotate(-90) scale(0.8923,1)" x="-1.09" y="0" font-size="36.4">% Foxp3</text>
<text transform="translate(783.90,2258.70) rotate(-90) scale(0.9403,1)" x="-1.25" y="0" font-size="24.96">+</text>
<rect x="486.70" y="1764.40" width="55.40" height="197.10" fill="#d6d6d6" stroke="#000" stroke-width="1.7"/>
<rect x="569.30" y="1737.10" width="55.40" height="224.40" fill="#fd8f89" stroke="#000" stroke-width="1.7"/>
<rect x="652.00" y="1745.60" width="55.40" height="215.90" fill="#7bc4e5" stroke="#000" stroke-width="1.7"/>
<circle cx="514.30" cy="1697.60" r="6.1" fill="none" stroke="#000" stroke-width="1.5"/>
<circle cx="495.80" cy="1715.50" r="6.1" fill="none" stroke="#000" stroke-width="1.5"/>
<circle cx="514.30" cy="1725.40" r="6.1" fill="none" stroke="#000" stroke-width="1.5"/>
<circle cx="532.80" cy="1724.80" r="6.1" fill="none" stroke="#000" stroke-width="1.5"/>
<circle cx="514.30" cy="1756.10" r="6.1" fill="none" stroke="#000" stroke-width="1.5"/>
<circle cx="495.80" cy="1776.20" r="6.1" fill="none" stroke="#000" stroke-width="1.5"/>
<circle cx="532.80" cy="1779.70" r="6.1" fill="none" stroke="#000" stroke-width="1.5"/>
<circle cx="514.30" cy="1794.30" r="6.1" fill="none" stroke="#000" stroke-width="1.5"/>
<circle cx="514.30" cy="1816.60" r="6.1" fill="none" stroke="#000" stroke-width="1.5"/>
<circle cx="514.30" cy="1850.00" r="6.1" fill="none" stroke="#000" stroke-width="1.5"/>
<circle cx="578.60" cy="1678.20" r="6.1" fill="#e03022" stroke="#000" stroke-width="1.5"/>
<circle cx="596.60" cy="1691.10" r="6.1" fill="#e03022" stroke="#000" stroke-width="1.5"/>
<circle cx="624.20" cy="1690.00" r="6.1" fill="#e03022" stroke="#000" stroke-width="1.5"/>
<circle cx="578.60" cy="1709.90" r="6.1" fill="#e03022" stroke="#000" stroke-width="1.5"/>
<circle cx="615.00" cy="1706.40" r="6.1" fill="#e03022" stroke="#000" stroke-width="1.5"/>
<circle cx="596.60" cy="1714.30" r="6.1" fill="#e03022" stroke="#000" stroke-width="1.5"/>
<circle cx="605.90" cy="1753.50" r="6.1" fill="#e03022" stroke="#000" stroke-width="1.5"/>
<circle cx="587.40" cy="1764.70" r="6.1" fill="#e03022" stroke="#000" stroke-width="1.5"/>
<circle cx="596.60" cy="1785.10" r="6.1" fill="#e03022" stroke="#000" stroke-width="1.5"/>
<circle cx="596.60" cy="1870.20" r="6.1" fill="#e03022" stroke="#000" stroke-width="1.5"/>
<circle cx="679.20" cy="1690.90" r="6.1" fill="#4335a3" stroke="#000" stroke-width="1.5"/>
<circle cx="697.70" cy="1703.20" r="6.1" fill="#4335a3" stroke="#000" stroke-width="1.5"/>
<circle cx="661.10" cy="1716.40" r="6.1" fill="#4335a3" stroke="#000" stroke-width="1.5"/>
<circle cx="679.20" cy="1720.10" r="6.1" fill="#4335a3" stroke="#000" stroke-width="1.5"/>
<circle cx="670.40" cy="1759.10" r="6.1" fill="#4335a3" stroke="#000" stroke-width="1.5"/>
<circle cx="688.50" cy="1755.60" r="6.1" fill="#4335a3" stroke="#000" stroke-width="1.5"/>
<circle cx="679.20" cy="1780.60" r="6.1" fill="#4335a3" stroke="#000" stroke-width="1.5"/>
<circle cx="679.20" cy="1831.20" r="6.1" fill="#4335a3" stroke="#000" stroke-width="1.5"/>
<line x1="514.40" y1="1715.20" x2="514.40" y2="1764.40" stroke="#000" stroke-width="3.0" />
<line x1="505.80" y1="1715.20" x2="523.00" y2="1715.20" stroke="#000" stroke-width="3.0" />
<line x1="597.00" y1="1677.40" x2="597.00" y2="1737.10" stroke="#000" stroke-width="3.0" />
<line x1="588.40" y1="1677.40" x2="605.60" y2="1677.40" stroke="#000" stroke-width="3.0" />
<line x1="679.70" y1="1698.10" x2="679.70" y2="1745.60" stroke="#000" stroke-width="3.0" />
<line x1="671.10" y1="1698.10" x2="688.30" y2="1698.10" stroke="#000" stroke-width="3.0" />
<line x1="450.90" y1="1961.50" x2="816.90" y2="1961.50" stroke="#000" stroke-width="2" />
<line x1="459.20" y1="1602.00" x2="459.20" y2="1962.50" stroke="#000" stroke-width="2" />
<line x1="450.90" y1="1961.50" x2="459.20" y2="1961.50" stroke="#000" stroke-width="2" />
<text transform="translate(446.90,1969.70) scale(0.95,1)" font-size="26.7" text-anchor="end">0</text>
<line x1="450.90" y1="1889.80" x2="459.20" y2="1889.80" stroke="#000" stroke-width="2" />
<text transform="translate(449.90,1898.00) scale(0.95,1)" font-size="26.7" text-anchor="end">1</text>
<line x1="450.90" y1="1818.10" x2="459.20" y2="1818.10" stroke="#000" stroke-width="2" />
<text transform="translate(449.90,1826.30) scale(0.95,1)" font-size="26.7" text-anchor="end">2</text>
<line x1="450.90" y1="1746.40" x2="459.20" y2="1746.40" stroke="#000" stroke-width="2" />
<text transform="translate(449.90,1754.60) scale(0.95,1)" font-size="26.7" text-anchor="end">3</text>
<line x1="450.90" y1="1674.70" x2="459.20" y2="1674.70" stroke="#000" stroke-width="2" />
<text transform="translate(449.90,1682.90) scale(0.95,1)" font-size="26.7" text-anchor="end">4</text>
<line x1="450.90" y1="1603.00" x2="459.20" y2="1603.00" stroke="#000" stroke-width="2" />
<text transform="translate(449.90,1611.20) scale(0.95,1)" font-size="26.7" text-anchor="end">5</text>
<line x1="514.00" y1="1636.90" x2="600.10" y2="1636.90" stroke="#888" stroke-width="1.2" />
<text x="553.00" y="1632.50" font-size="17.4" text-anchor="middle" >0.013</text>
<text transform="translate(417.50,1775.00) rotate(-90) scale(0.9615,1)" font-size="33.80" text-anchor="middle" >Division index</text>
<circle cx="758.70" cy="1962.10" r="5.9" fill="#3d3d3d" stroke="#000" stroke-width="1.4"/>
<circle cx="771.20" cy="1957.00" r="5.9" fill="#3d3d3d" stroke="#000" stroke-width="1.4"/>
<circle cx="752.90" cy="1961.70" r="5.9" fill="#3d3d3d" stroke="#000" stroke-width="1.4"/>
<circle cx="744.10" cy="1961.70" r="5.9" fill="#3d3d3d" stroke="#000" stroke-width="1.4"/>
<circle cx="765.60" cy="1961.70" r="5.9" fill="#3d3d3d" stroke="#000" stroke-width="1.4"/>
<circle cx="773.20" cy="1961.70" r="5.9" fill="#3d3d3d" stroke="#000" stroke-width="1.4"/>
<circle cx="779.90" cy="1961.70" r="5.9" fill="#3d3d3d" stroke="#000" stroke-width="1.4"/>
<line x1="754.40" y1="1960.50" x2="769.50" y2="1960.50" stroke="#000" stroke-width="2.6" />
<line x1="594.30" y1="1961.50" x2="594.30" y2="1971.80" stroke="#000" stroke-width="2" />
<text transform="translate(607.00,1991.00) rotate(-45)" font-size="24" text-anchor="end" >1:2</text>
<text transform="translate(603.00,2050.40) scale(0.9615,1)" font-size="33.80" text-anchor="middle" >APC:T cell ratio</text>
<line x1="448.40" y1="405.10" x2="845.30" y2="405.10" stroke="#000" stroke-width="2" />
<line x1="456.70" y1="45.70" x2="456.70" y2="406.10" stroke="#000" stroke-width="2" />
<line x1="448.40" y1="405.10" x2="456.70" y2="405.10" stroke="#000" stroke-width="2" />
<text transform="translate(448.10,413.30) scale(0.95,1)" font-size="26.7" text-anchor="end">0</text>
<line x1="448.40" y1="315.50" x2="456.70" y2="315.50" stroke="#000" stroke-width="2" />
<text transform="translate(448.10,323.70) scale(0.95,1)" font-size="26.7" text-anchor="end">1</text>
<line x1="448.40" y1="225.90" x2="456.70" y2="225.90" stroke="#000" stroke-width="2" />
<text transform="translate(448.10,234.10) scale(0.95,1)" font-size="26.7" text-anchor="end">2</text>
<line x1="448.40" y1="136.30" x2="456.70" y2="136.30" stroke="#000" stroke-width="2" />
<text transform="translate(448.10,144.50) scale(0.95,1)" font-size="26.7" text-anchor="end">3</text>
<line x1="448.40" y1="46.70" x2="456.70" y2="46.70" stroke="#000" stroke-width="2" />
<text transform="translate(448.10,54.90) scale(0.95,1)" font-size="26.7" text-anchor="end">4</text>
<line x1="564.30" y1="405.10" x2="564.30" y2="413.80" stroke="#000" stroke-width="2" />
<line x1="769.50" y1="405.10" x2="769.50" y2="413.80" stroke="#000" stroke-width="2" />
<circle cx="620.70" cy="405.60" r="9.0" fill="#808080" stroke="#000" stroke-width="1.6"/>
<circle cx="628.90" cy="405.60" r="9.0" fill="#808080" stroke="#000" stroke-width="1.6"/>
<circle cx="637.10" cy="405.60" r="9.0" fill="#808080" stroke="#000" stroke-width="1.6"/>
<circle cx="510.60" cy="280.70" r="9.0" fill="#e03022" stroke="#000" stroke-width="1.6"/>
<circle cx="488.50" cy="293.30" r="9.0" fill="#e03022" stroke="#000" stroke-width="1.6"/>
<circle cx="488.50" cy="316.10" r="9.0" fill="#e03022" stroke="#000" stroke-width="1.6"/>
<circle cx="510.60" cy="328.10" r="9.0" fill="#e03022" stroke="#000" stroke-width="1.6"/>
<circle cx="488.50" cy="367.90" r="9.0" fill="#e03022" stroke="#000" stroke-width="1.6"/>
<circle cx="510.60" cy="367.90" r="9.0" fill="#e03022" stroke="#000" stroke-width="1.6"/>
<line x1="478.00" y1="326.00" x2="520.90" y2="326.00" stroke="#000" stroke-width="1.6" />
<line x1="499.80" y1="289.10" x2="499.80" y2="362.50" stroke="#000" stroke-width="2.6" />
<line x1="488.50" y1="289.10" x2="511.00" y2="289.10" stroke="#000" stroke-width="2.6" />
<line x1="488.50" y1="362.50" x2="511.00" y2="362.50" stroke="#000" stroke-width="2.6" />
<circle cx="555.80" cy="297.40" r="9.0" fill="none" stroke="#000" stroke-width="1.6"/>
<circle cx="572.60" cy="292.20" r="9.0" fill="none" stroke="#000" stroke-width="1.6"/>
<circle cx="563.80" cy="311.90" r="9.0" fill="none" stroke="#000" stroke-width="1.6"/>
<circle cx="555.80" cy="343.50" r="9.0" fill="none" stroke="#000" stroke-width="1.6"/>
<circle cx="572.20" cy="361.10" r="9.0" fill="none" stroke="#000" stroke-width="1.6"/>
<circle cx="563.80" cy="366.00" r="9.0" fill="none" stroke="#000" stroke-width="1.6"/>
<line x1="543.10" y1="328.80" x2="585.90" y2="328.80" stroke="#000" stroke-width="1.6" />
<line x1="564.50" y1="296.40" x2="564.50" y2="361.10" stroke="#000" stroke-width="2.6" />
<line x1="553.20" y1="296.40" x2="576.40" y2="296.40" stroke="#000" stroke-width="2.6" />
<line x1="553.20" y1="361.10" x2="576.40" y2="361.10" stroke="#000" stroke-width="2.6" />
<circle cx="728.80" cy="370.40" r="9.0" fill="#e03022" stroke="#000" stroke-width="1.6"/>
<circle cx="745.70" cy="378.80" r="9.0" fill="#e03022" stroke="#000" stroke-width="1.6"/>
<circle cx="732.20" cy="388.40" r="9.0" fill="#e03022" stroke="#000" stroke-width="1.6"/>
<circle cx="741.80" cy="391.80" r="9.0" fill="#e03022" stroke="#000" stroke-width="1.6"/>
<circle cx="739.50" cy="392.90" r="9.0" fill="#e03022" stroke="#000" stroke-width="1.6"/>
<circle cx="736.70" cy="393.40" r="9.0" fill="#e03022" stroke="#000" stroke-width="1.6"/>
<line x1="715.30" y1="384.80" x2="758.60" y2="384.80" stroke="#000" stroke-width="1.6" />
<line x1="737.00" y1="376.00" x2="737.00" y2="394.00" stroke="#000" stroke-width="2.6" />
<line x1="724.90" y1="376.00" x2="748.50" y2="376.00" stroke="#000" stroke-width="2.6" />
<line x1="724.90" y1="394.00" x2="748.50" y2="394.00" stroke="#000" stroke-width="2.6" />
<circle cx="793.30" cy="383.30" r="9.0" fill="none" stroke="#000" stroke-width="1.6"/>
<circle cx="811.00" cy="385.00" r="9.0" fill="none" stroke="#000" stroke-width="1.6"/>
<circle cx="796.90" cy="388.40" r="9.0" fill="none" stroke="#000" stroke-width="1.6"/>
<circle cx="799.70" cy="399.00" r="9.0" fill="none" stroke="#000" stroke-width="1.6"/>
<circle cx="807.00" cy="400.80" r="9.0" fill="none" stroke="#000" stroke-width="1.6"/>
<circle cx="802.00" cy="402.40" r="9.0" fill="none" stroke="#000" stroke-width="1.6"/>
<line x1="780.00" y1="392.50" x2="823.30" y2="392.50" stroke="#000" stroke-width="1.6" />
<line x1="802.50" y1="385.00" x2="802.50" y2="400.20" stroke="#000" stroke-width="2.6" />
<line x1="790.00" y1="385.00" x2="813.80" y2="385.00" stroke="#000" stroke-width="2.6" />
<line x1="790.00" y1="400.20" x2="813.80" y2="400.20" stroke="#000" stroke-width="2.6" />
<text transform="translate(570.50,431.00) rotate(-45)" font-size="24" text-anchor="end" >1:1</text>
<text transform="translate(776.50,430.50) rotate(-45)" font-size="24" text-anchor="end" >1:10</text>
<text transform="translate(630.50,504.90) scale(0.9615,1)" font-size="33.80" text-anchor="middle" >APC:T cell ratio</text>
<text transform="translate(415.70,217.00) rotate(-90) scale(0.9615,1)" font-size="34.32" text-anchor="middle" >Division index</text>
<rect x="61.8" y="109.3" width="277.0" height="277.5" fill="#fff" stroke="#7a7a7a" stroke-width="1.3"/>
<path d="M215.54,386.42C216.20,386.36 217.51,386.36 219.48,386.03C221.45,385.70 225.06,385.37 227.36,384.45C229.65,383.53 231.62,383.47 233.26,380.52C234.90,377.56 235.89,374.61 237.20,366.73C238.51,358.86 239.99,346.72 241.14,333.26C242.29,319.81 243.11,300.12 244.09,286.01C245.08,271.90 246.22,256.15 247.04,248.60C247.87,241.05 248.19,240.40 249.01,240.72C249.83,241.05 250.98,244.99 251.97,250.57C252.95,256.15 253.94,266.32 254.92,274.20C255.90,282.07 256.73,291.92 257.87,297.82C259.02,303.73 260.50,305.04 261.81,309.64C263.12,314.23 264.60,320.14 265.75,325.39C266.90,330.64 267.55,335.23 268.70,341.14C269.85,347.04 271.33,354.92 272.64,360.83C273.95,366.73 274.94,372.80 276.58,376.58C278.22,380.35 280.52,381.99 282.48,383.47C284.45,384.95 286.42,384.95 288.39,385.44C290.36,385.93 293.31,386.26 294.30,386.42Z" fill="#f1f1f4" stroke="#b9b9be" stroke-width="1.6"/>
<path d="M60.00,386.03C62.63,385.86 72.14,385.47 75.75,385.04C79.36,384.62 79.69,384.55 81.66,383.47C83.63,382.39 85.76,379.76 87.56,378.55C89.37,377.33 90.85,376.28 92.49,376.18C94.13,376.09 95.77,377.40 97.41,377.96C99.05,378.51 100.36,379.33 102.33,379.53C104.30,379.73 107.25,379.56 109.22,379.14C111.19,378.71 112.50,377.23 114.14,376.97C115.79,376.71 117.59,377.04 119.07,377.56C120.54,378.09 121.53,379.20 123.00,380.12C124.48,381.04 126.29,382.75 127.93,383.08C129.57,383.40 131.21,382.85 132.85,382.09C134.49,381.34 136.29,379.47 137.77,378.55C139.25,377.63 140.23,376.91 141.71,376.58C143.19,376.25 145.15,376.74 146.63,376.58C148.11,376.41 149.26,378.88 150.57,375.59C151.88,372.31 153.19,366.57 154.51,356.89C155.82,347.21 157.30,329.32 158.44,317.51C159.59,305.70 160.41,292.08 161.40,286.01C162.38,279.94 163.37,279.77 164.35,281.09C165.34,282.40 166.25,287.16 167.30,293.88C168.35,300.61 169.67,317.51 170.65,321.45C171.64,325.39 172.13,328.01 173.21,317.51C174.29,307.01 175.84,278.13 177.15,258.44C178.46,238.76 180.10,211.03 181.09,199.38C182.07,187.73 182.40,187.56 183.06,188.55C183.71,189.53 184.20,193.64 185.02,205.28C185.84,216.93 186.99,239.74 187.98,258.44C188.96,277.15 189.95,305.04 190.93,317.51C191.92,329.98 192.90,333.26 193.88,333.26C194.87,333.26 195.69,326.04 196.84,317.51C197.99,308.98 199.69,288.63 200.78,282.07C201.86,275.51 202.51,276.16 203.34,278.13C204.16,280.10 204.65,284.04 205.70,293.88C206.75,303.73 208.49,327.03 209.64,337.20C210.78,347.37 211.60,351.70 212.59,354.92C213.57,358.14 214.39,357.32 215.54,356.50C216.69,355.68 218.17,352.07 219.48,350.00C220.79,347.93 222.27,344.75 223.42,344.09C224.57,343.44 225.39,343.93 226.37,346.06C227.36,348.19 228.18,353.77 229.32,356.89C230.47,360.01 232.11,362.96 233.26,364.76C234.41,366.57 235.07,368.05 236.22,367.72C237.36,367.39 238.68,365.42 240.15,362.80C241.63,360.17 243.60,354.59 245.08,351.97C246.55,349.34 247.87,347.04 249.01,347.04C250.16,347.04 250.82,349.34 251.97,351.97C253.12,354.59 254.43,360.17 255.90,362.80C257.38,365.42 259.19,366.24 260.83,367.72C262.47,369.19 264.11,370.02 265.75,371.66C267.39,373.30 269.19,375.76 270.67,377.56C272.15,379.37 273.30,381.07 274.61,382.48C275.92,383.90 277.89,385.44 278.55,386.03" fill="none" stroke="#db3a2c" stroke-width="1.8"/>
<path d="M60.00,385.44C61.97,385.37 68.86,385.54 71.81,385.04C74.77,384.55 75.59,383.34 77.72,382.48C79.85,381.63 82.64,380.09 84.61,379.93C86.58,379.76 87.73,380.58 89.53,381.50C91.34,382.42 94.46,384.78 95.44,385.44" fill="none" stroke="#111" stroke-width="1.9"/>
<path d="M107.25,385.44C108.24,384.45 111.36,381.07 113.16,379.53C114.96,377.99 116.44,376.18 118.08,376.18C119.72,376.18 121.36,378.25 123.00,379.53C124.65,380.81 126.29,383.37 127.93,383.86C129.57,384.36 131.21,382.71 132.85,382.48C134.49,382.26 136.13,382.32 137.77,382.48C139.41,382.65 141.22,383.31 142.69,383.47C144.17,383.63 145.32,384.29 146.63,383.47C147.94,382.65 148.93,384.29 150.57,378.55C152.21,372.80 154.77,354.92 156.48,349.01C158.18,343.11 159.33,342.12 160.81,343.11C162.28,344.09 163.76,351.64 165.34,354.92C166.91,358.20 168.78,363.78 170.26,362.80C171.73,361.81 172.88,363.12 174.20,349.01C175.51,334.90 176.82,300.12 178.13,278.13C179.45,256.15 180.76,220.38 182.07,217.10C183.38,213.82 184.70,240.72 186.01,258.44C187.32,276.16 188.80,309.70 189.95,323.42C191.10,337.13 191.92,338.78 192.90,340.74C193.88,342.71 194.70,344.03 195.85,335.23C197.00,326.44 198.64,298.31 199.79,287.98C200.94,277.64 201.76,273.54 202.74,273.21C203.73,272.88 204.55,277.97 205.70,286.01C206.85,294.05 208.32,312.10 209.64,321.45C210.95,330.80 212.43,339.50 213.57,342.12C214.72,344.75 215.54,339.17 216.53,337.20C217.51,335.23 218.33,330.80 219.48,330.31C220.63,329.82 222.11,331.46 223.42,334.25C224.73,337.04 226.04,342.94 227.36,347.04C228.67,351.15 230.15,356.40 231.29,358.86C232.44,361.32 233.26,362.14 234.25,361.81C235.23,361.48 236.05,360.99 237.20,356.89C238.35,352.79 239.83,343.76 241.14,337.20C242.45,330.64 243.93,320.14 245.08,317.51C246.22,314.89 247.04,317.18 248.03,321.45C249.01,325.72 249.83,336.38 250.98,343.11C252.13,349.83 253.61,357.55 254.92,361.81C256.23,366.08 257.22,366.57 258.86,368.70C260.50,370.84 262.80,372.64 264.76,374.61C266.73,376.58 268.70,378.78 270.67,380.52C272.64,382.26 274.61,384.06 276.58,385.04C278.55,386.03 281.50,386.19 282.48,386.42" fill="none" stroke="#111" stroke-width="1.9"/>
<line x1="58.80" y1="386.80" x2="61.80" y2="386.80" stroke="#555" stroke-width="1.1" />
<line x1="60.00" y1="373.56" x2="61.80" y2="373.56" stroke="#555" stroke-width="1.1" />
<line x1="60.00" y1="360.32" x2="61.80" y2="360.32" stroke="#555" stroke-width="1.1" />
<line x1="60.00" y1="347.08" x2="61.80" y2="347.08" stroke="#555" stroke-width="1.1" />
<line x1="58.80" y1="333.84" x2="61.80" y2="333.84" stroke="#555" stroke-width="1.1" />
<line x1="60.00" y1="320.60" x2="61.80" y2="320.60" stroke="#555" stroke-width="1.1" />
<line x1="60.00" y1="307.36" x2="61.80" y2="307.36" stroke="#555" stroke-width="1.1" />
<line x1="60.00" y1="294.12" x2="61.80" y2="294.12" stroke="#555" stroke-width="1.1" />
<line x1="58.80" y1="280.88" x2="61.80" y2="280.88" stroke="#555" stroke-width="1.1" />
<line x1="60.00" y1="267.64" x2="61.80" y2="267.64" stroke="#555" stroke-width="1.1" />
<line x1="60.00" y1="254.40" x2="61.80" y2="254.40" stroke="#555" stroke-width="1.1" />
<line x1="60.00" y1="241.16" x2="61.80" y2="241.16" stroke="#555" stroke-width="1.1" />
<line x1="58.80" y1="227.92" x2="61.80" y2="227.92" stroke="#555" stroke-width="1.1" />
<line x1="60.00" y1="214.68" x2="61.80" y2="214.68" stroke="#555" stroke-width="1.1" />
<line x1="60.00" y1="201.44" x2="61.80" y2="201.44" stroke="#555" stroke-width="1.1" />
<line x1="60.00" y1="188.20" x2="61.80" y2="188.20" stroke="#555" stroke-width="1.1" />
<line x1="58.80" y1="174.96" x2="61.80" y2="174.96" stroke="#555" stroke-width="1.1" />
<line x1="60.00" y1="161.72" x2="61.80" y2="161.72" stroke="#555" stroke-width="1.1" />
<line x1="60.00" y1="148.48" x2="61.80" y2="148.48" stroke="#555" stroke-width="1.1" />
<line x1="60.00" y1="135.24" x2="61.80" y2="135.24" stroke="#555" stroke-width="1.1" />
<line x1="58.80" y1="122.00" x2="61.80" y2="122.00" stroke="#555" stroke-width="1.1" />
<text x="53.30" y="391.40" font-size="12.8" text-anchor="end" >0</text>
<text x="53.30" y="338.44" font-size="12.8" text-anchor="end" >20</text>
<text x="53.30" y="285.48" font-size="12.8" text-anchor="end" >40</text>
<text x="53.30" y="232.52" font-size="12.8" text-anchor="end" >60</text>
<text x="53.30" y="179.56" font-size="12.8" text-anchor="end" >80</text>
<text x="53.30" y="126.60" font-size="12.8" text-anchor="end" >100</text>
<line x1="117.70" y1="386.80" x2="117.70" y2="389.60" stroke="#555" stroke-width="1.1" />
<line x1="184.70" y1="386.80" x2="184.70" y2="389.60" stroke="#555" stroke-width="1.1" />
<line x1="249.80" y1="386.80" x2="249.80" y2="389.60" stroke="#555" stroke-width="1.1" />
<line x1="313.00" y1="386.80" x2="313.00" y2="389.60" stroke="#555" stroke-width="1.1" />
<line x1="137.87" y1="386.80" x2="137.87" y2="388.60" stroke="#666" stroke-width="0.9" />
<line x1="149.67" y1="386.80" x2="149.67" y2="388.60" stroke="#666" stroke-width="0.9" />
<line x1="158.04" y1="386.80" x2="158.04" y2="388.60" stroke="#666" stroke-width="0.9" />
<line x1="164.53" y1="386.80" x2="164.53" y2="388.60" stroke="#666" stroke-width="0.9" />
<line x1="169.84" y1="386.80" x2="169.84" y2="388.60" stroke="#666" stroke-width="0.9" />
<line x1="174.32" y1="386.80" x2="174.32" y2="388.60" stroke="#666" stroke-width="0.9" />
<line x1="178.21" y1="386.80" x2="178.21" y2="388.60" stroke="#666" stroke-width="0.9" />
<line x1="181.63" y1="386.80" x2="181.63" y2="388.60" stroke="#666" stroke-width="0.9" />
<line x1="204.30" y1="386.80" x2="204.30" y2="388.60" stroke="#666" stroke-width="0.9" />
<line x1="215.76" y1="386.80" x2="215.76" y2="388.60" stroke="#666" stroke-width="0.9" />
<line x1="223.89" y1="386.80" x2="223.89" y2="388.60" stroke="#666" stroke-width="0.9" />
<line x1="230.20" y1="386.80" x2="230.20" y2="388.60" stroke="#666" stroke-width="0.9" />
<line x1="235.36" y1="386.80" x2="235.36" y2="388.60" stroke="#666" stroke-width="0.9" />
<line x1="239.72" y1="386.80" x2="239.72" y2="388.60" stroke="#666" stroke-width="0.9" />
<line x1="243.49" y1="386.80" x2="243.49" y2="388.60" stroke="#666" stroke-width="0.9" />
<line x1="246.82" y1="386.80" x2="246.82" y2="388.60" stroke="#666" stroke-width="0.9" />
<line x1="268.83" y1="386.80" x2="268.83" y2="388.60" stroke="#666" stroke-width="0.9" />
<line x1="279.95" y1="386.80" x2="279.95" y2="388.60" stroke="#666" stroke-width="0.9" />
<line x1="287.85" y1="386.80" x2="287.85" y2="388.60" stroke="#666" stroke-width="0.9" />
<line x1="293.97" y1="386.80" x2="293.97" y2="388.60" stroke="#666" stroke-width="0.9" />
<line x1="298.98" y1="386.80" x2="298.98" y2="388.60" stroke="#666" stroke-width="0.9" />
<line x1="303.21" y1="386.80" x2="303.21" y2="388.60" stroke="#666" stroke-width="0.9" />
<line x1="306.88" y1="386.80" x2="306.88" y2="388.60" stroke="#666" stroke-width="0.9" />
<line x1="310.11" y1="386.80" x2="310.11" y2="388.60" stroke="#666" stroke-width="0.9" />
<line x1="332.27" y1="386.80" x2="332.27" y2="388.60" stroke="#666" stroke-width="0.9" />
<line x1="67.00" y1="386.80" x2="67.00" y2="388.60" stroke="#666" stroke-width="0.9" />
<line x1="72.00" y1="386.80" x2="72.00" y2="388.60" stroke="#666" stroke-width="0.9" />
<line x1="77.00" y1="386.80" x2="77.00" y2="388.60" stroke="#666" stroke-width="0.9" />
<line x1="82.00" y1="386.80" x2="82.00" y2="388.60" stroke="#666" stroke-width="0.9" />
<line x1="87.00" y1="386.80" x2="87.00" y2="388.60" stroke="#666" stroke-width="0.9" />
<line x1="91.00" y1="386.80" x2="91.00" y2="388.60" stroke="#666" stroke-width="0.9" />
<line x1="95.00" y1="386.80" x2="95.00" y2="388.60" stroke="#666" stroke-width="0.9" />
<line x1="100.00" y1="386.80" x2="100.00" y2="388.60" stroke="#666" stroke-width="0.9" />
<line x1="105.00" y1="386.80" x2="105.00" y2="388.60" stroke="#666" stroke-width="0.9" />
<line x1="110.00" y1="386.80" x2="110.00" y2="388.60" stroke="#666" stroke-width="0.9" />
<text x="90.80" y="411.10" font-size="11" text-anchor="middle" >0</text>
<text x="111.20" y="411.10" font-size="11" text-anchor="start" >10</text>
<text x="178.20" y="411.10" font-size="11" text-anchor="start" >10</text>
<text x="243.30" y="411.10" font-size="11" text-anchor="start" >10</text>
<text x="306.00" y="411.10" font-size="11" text-anchor="start" >10</text>
<text x="127.30" y="401.60" font-size="11" text-anchor="start" >2</text>
<text x="193.90" y="401.60" font-size="11" text-anchor="start" >3</text>
<text x="259.00" y="401.60" font-size="11" text-anchor="start" >4</text>
<text x="321.80" y="401.60" font-size="11" text-anchor="start" >5</text>
<text transform="translate(68.00,436.50) scale(0.9615,1)" font-size="30.16" text-anchor="start" >CTV</text>
<line x1="159.20" y1="429.10" x2="340.00" y2="429.10" stroke="#000" stroke-width="3.6" />
<text transform="translate(24.00,244.50) rotate(-90) scale(0.9615,1)" font-size="30.47" text-anchor="middle" >Normalized to mode</text>
<rect x="71.4" y="1636.4" width="266.79999999999995" height="270.5999999999999" fill="#fff" stroke="#8a8a8a" stroke-width="1.3"/>
<line x1="71.40" y1="1636.40" x2="71.40" y2="1907.00" stroke="#1a1a1a" stroke-width="1.2" />
<line x1="64.00" y1="1907.00" x2="338.20" y2="1907.00" stroke="#111" stroke-width="1.3" />
<line x1="71.30" y1="1835.20" x2="71.30" y2="1846.70" stroke="#111" stroke-width="2.0" />
<line x1="338.20" y1="1848.80" x2="338.20" y2="1860.60" stroke="#2b2b2b" stroke-width="1.9" />
<path d="M172.24,1907.00C173.57,1906.60 177.25,1905.33 180.25,1904.60C183.26,1903.86 186.93,1903.43 190.27,1902.59C193.61,1901.76 197.62,1900.59 200.29,1899.59C202.97,1898.59 204.47,1898.75 206.31,1896.58C208.14,1894.41 209.81,1892.57 211.32,1886.56C212.82,1880.55 214.16,1873.20 215.33,1860.51C216.50,1847.81 217.50,1827.10 218.33,1810.40C219.17,1793.70 219.67,1774.66 220.34,1760.29C221.00,1745.93 221.74,1731.90 222.34,1724.22C222.94,1716.54 223.44,1714.20 223.94,1714.20C224.45,1714.20 224.78,1716.54 225.35,1724.22C225.92,1731.90 226.68,1745.93 227.35,1760.29C228.02,1774.66 228.52,1793.70 229.36,1810.40C230.19,1827.10 231.36,1847.81 232.36,1860.51C233.36,1873.20 234.03,1879.88 235.37,1886.56C236.70,1893.24 238.54,1897.42 240.38,1900.59C242.22,1903.76 244.39,1904.53 246.39,1905.60C248.40,1906.67 251.40,1906.77 252.40,1907.00Z" fill="#efefef" stroke="#ababab" stroke-width="1.5"/>
<path d="M71.42,1907.00C73.03,1906.94 78.44,1907.50 81.04,1906.60C83.65,1905.70 85.05,1905.27 87.06,1901.59C89.06,1897.92 91.07,1897.08 93.07,1884.56C95.07,1872.03 97.08,1850.48 99.08,1826.43C101.09,1802.38 103.42,1764.64 105.09,1740.25C106.76,1715.87 108.10,1693.15 109.10,1680.13C110.11,1667.10 110.54,1665.93 111.11,1662.09C111.68,1658.25 111.94,1657.08 112.51,1657.08C113.08,1657.08 113.75,1658.58 114.51,1662.09C115.28,1665.60 116.18,1675.45 117.12,1678.12C118.06,1680.79 119.12,1677.79 120.13,1678.12C121.13,1678.46 122.13,1679.79 123.13,1680.13C124.13,1680.46 125.14,1674.11 126.14,1680.13C127.14,1686.14 128.14,1700.84 129.15,1716.20C130.15,1731.57 131.32,1759.29 132.15,1772.32C132.99,1785.35 133.32,1796.37 134.16,1794.37C134.99,1792.36 136.16,1772.65 137.16,1760.29C138.16,1747.94 139.43,1727.56 140.17,1720.21C140.90,1712.86 140.90,1714.20 141.57,1716.20C142.24,1718.21 143.07,1718.21 144.18,1732.24C145.28,1746.27 146.85,1778.33 148.19,1800.38C149.52,1822.43 150.92,1856.50 152.19,1864.51C153.46,1872.53 154.63,1854.83 155.80,1848.48C156.97,1842.13 158.24,1830.78 159.21,1826.43C160.18,1822.09 160.78,1821.09 161.61,1822.43C162.45,1823.76 163.12,1826.10 164.22,1834.45C165.32,1842.80 166.89,1862.01 168.23,1872.53C169.56,1883.05 170.90,1893.91 172.24,1897.58C173.57,1901.26 174.74,1897.08 176.24,1894.58C177.75,1892.07 179.75,1883.22 181.25,1882.55C182.76,1881.88 183.76,1887.23 185.26,1890.57C186.77,1893.91 188.44,1900.59 190.27,1902.59C192.11,1904.60 194.45,1902.59 196.29,1902.59C198.12,1902.59 199.79,1902.26 201.30,1902.59C202.80,1902.93 203.47,1903.93 205.31,1904.60C207.14,1905.27 210.15,1906.60 212.32,1906.60C214.49,1906.60 216.50,1905.00 218.33,1904.60C220.17,1904.20 221.67,1904.03 223.34,1904.20C225.01,1904.36 226.85,1905.13 228.35,1905.60C229.86,1906.07 231.69,1906.77 232.36,1907.00" fill="none" stroke="#3f44a8" stroke-width="1.6"/>
<path d="M71.42,1907.00C73.19,1906.94 79.27,1907.34 82.05,1906.60C84.82,1905.87 86.05,1905.93 88.06,1902.59C90.06,1899.25 92.07,1898.59 94.07,1886.56C96.08,1874.53 98.08,1854.16 100.08,1830.44C102.09,1806.73 104.43,1768.31 106.10,1744.26C107.77,1720.21 109.04,1698.33 110.11,1686.14C111.17,1673.95 111.51,1673.51 112.51,1671.11C113.51,1668.70 115.02,1672.88 116.12,1671.71C117.22,1670.54 118.36,1666.20 119.12,1664.09C119.89,1661.99 120.16,1658.58 120.73,1659.08C121.30,1659.58 121.80,1665.76 122.53,1667.10C123.27,1668.44 124.20,1663.93 125.14,1667.10C126.07,1670.27 127.14,1672.28 128.14,1686.14C129.15,1700.00 130.21,1732.57 131.15,1750.27C132.08,1767.98 132.92,1788.02 133.75,1792.36C134.59,1796.70 135.26,1787.69 136.16,1776.33C137.06,1764.97 138.26,1736.91 139.17,1724.22C140.07,1711.53 140.74,1700.17 141.57,1700.17C142.41,1700.17 143.07,1707.52 144.18,1724.22C145.28,1740.92 146.85,1776.66 148.19,1800.38C149.52,1824.10 150.92,1858.17 152.19,1866.52C153.46,1874.87 154.63,1857.50 155.80,1850.48C156.97,1843.47 158.24,1829.61 159.21,1824.43C160.18,1819.25 160.78,1818.08 161.61,1819.42C162.45,1820.75 163.12,1823.93 164.22,1832.45C165.32,1840.96 166.89,1859.84 168.23,1870.53C169.56,1881.22 170.90,1892.91 172.24,1896.58C173.57,1900.26 174.74,1895.31 176.24,1892.57C177.75,1889.83 179.75,1880.81 181.25,1880.15C182.76,1879.48 183.76,1884.99 185.26,1888.56C186.77,1892.14 188.44,1899.92 190.27,1901.59C192.11,1903.26 194.45,1900.09 196.29,1898.59C198.12,1897.08 199.79,1892.74 201.30,1892.57C202.80,1892.41 203.63,1895.58 205.31,1897.58C206.98,1899.59 209.31,1905.10 211.32,1904.60C213.32,1904.10 215.33,1897.52 217.33,1894.58C219.33,1891.64 221.67,1886.96 223.34,1886.96C225.01,1886.96 225.85,1891.64 227.35,1894.58C228.85,1897.52 230.86,1902.53 232.36,1904.60C233.87,1906.67 235.70,1906.60 236.37,1907.00" fill="none" stroke="#111" stroke-width="1.9"/>
<path d="M71.42,1907.00C73.36,1907.00 80.28,1907.24 83.05,1907.00C85.82,1906.77 86.05,1909.01 88.06,1905.60C90.06,1902.19 92.74,1900.76 95.07,1886.56C97.41,1872.36 99.92,1846.14 102.09,1820.42C104.26,1794.70 106.50,1755.28 108.10,1732.24C109.70,1709.19 110.77,1690.15 111.71,1682.13C112.64,1674.11 112.98,1685.14 113.71,1684.13C114.45,1683.13 115.22,1677.96 116.12,1676.12C117.02,1674.28 118.12,1674.78 119.12,1673.11C120.13,1671.44 121.30,1668.77 122.13,1666.10C122.97,1663.42 123.47,1655.74 124.13,1657.08C124.80,1658.41 125.30,1663.59 126.14,1674.11C126.97,1684.64 128.14,1701.84 129.15,1720.21C130.15,1738.58 131.32,1768.81 132.15,1784.35C132.99,1799.88 133.32,1812.40 134.16,1813.41C134.99,1814.41 135.99,1798.21 137.16,1790.36C138.33,1782.51 140.00,1767.31 141.17,1766.31C142.34,1765.31 143.01,1771.99 144.18,1784.35C145.35,1796.70 146.68,1823.59 148.19,1840.46C149.69,1857.33 151.53,1880.55 153.20,1885.56C154.87,1890.57 156.70,1874.53 158.21,1870.53C159.71,1866.52 161.05,1861.17 162.21,1861.51C163.38,1861.84 164.05,1866.68 165.22,1872.53C166.39,1878.38 168.06,1891.57 169.23,1896.58C170.40,1901.59 170.90,1901.93 172.24,1902.59C173.57,1903.26 175.58,1901.59 177.25,1900.59C178.92,1899.59 180.75,1896.75 182.26,1896.58C183.76,1896.41 184.43,1898.08 186.27,1899.59C188.10,1901.09 190.77,1904.93 193.28,1905.60C195.79,1906.27 198.62,1903.50 201.30,1903.60C203.97,1903.70 206.81,1905.87 209.31,1906.20C211.82,1906.54 214.16,1905.93 216.33,1905.60C218.50,1905.27 220.50,1904.20 222.34,1904.20C224.18,1904.20 225.68,1905.13 227.35,1905.60C229.02,1906.07 213.89,1906.77 232.36,1907.00C250.83,1907.24 320.55,1907.00 338.18,1907.00" fill="none" stroke="#e0281c" stroke-width="1.6"/>
<line x1="64.20" y1="1907.00" x2="71.40" y2="1907.00" stroke="#222" stroke-width="1.6" />
<line x1="67.60" y1="1894.12" x2="71.40" y2="1894.12" stroke="#222" stroke-width="1.1" />
<line x1="67.60" y1="1881.25" x2="71.40" y2="1881.25" stroke="#222" stroke-width="1.1" />
<line x1="67.60" y1="1868.38" x2="71.40" y2="1868.38" stroke="#222" stroke-width="1.1" />
<line x1="64.20" y1="1855.50" x2="71.40" y2="1855.50" stroke="#222" stroke-width="1.6" />
<line x1="67.60" y1="1842.62" x2="71.40" y2="1842.62" stroke="#222" stroke-width="1.1" />
<line x1="67.60" y1="1829.75" x2="71.40" y2="1829.75" stroke="#222" stroke-width="1.1" />
<line x1="67.60" y1="1816.88" x2="71.40" y2="1816.88" stroke="#222" stroke-width="1.1" />
<line x1="64.20" y1="1804.00" x2="71.40" y2="1804.00" stroke="#222" stroke-width="1.6" />
<line x1="67.60" y1="1791.12" x2="71.40" y2="1791.12" stroke="#222" stroke-width="1.1" />
<line x1="67.60" y1="1778.25" x2="71.40" y2="1778.25" stroke="#222" stroke-width="1.1" />
<line x1="67.60" y1="1765.38" x2="71.40" y2="1765.38" stroke="#222" stroke-width="1.1" />
<line x1="64.20" y1="1752.50" x2="71.40" y2="1752.50" stroke="#222" stroke-width="1.6" />
<line x1="67.60" y1="1739.62" x2="71.40" y2="1739.62" stroke="#222" stroke-width="1.1" />
<line x1="67.60" y1="1726.75" x2="71.40" y2="1726.75" stroke="#222" stroke-width="1.1" />
<line x1="67.60" y1="1713.88" x2="71.40" y2="1713.88" stroke="#222" stroke-width="1.1" />
<line x1="64.20" y1="1701.00" x2="71.40" y2="1701.00" stroke="#222" stroke-width="1.6" />
<line x1="67.60" y1="1688.12" x2="71.40" y2="1688.12" stroke="#222" stroke-width="1.1" />
<line x1="67.60" y1="1675.25" x2="71.40" y2="1675.25" stroke="#222" stroke-width="1.1" />
<line x1="67.60" y1="1662.38" x2="71.40" y2="1662.38" stroke="#222" stroke-width="1.1" />
<line x1="64.20" y1="1649.50" x2="71.40" y2="1649.50" stroke="#222" stroke-width="1.6" />
<text x="53.00" y="1911.60" font-size="12.8" text-anchor="end" >0</text>
<text x="53.00" y="1860.10" font-size="12.8" text-anchor="end" >20</text>
<text x="53.00" y="1808.60" font-size="12.8" text-anchor="end" >40</text>
<text x="53.00" y="1757.10" font-size="12.8" text-anchor="end" >60</text>
<text x="53.00" y="1705.60" font-size="12.8" text-anchor="end" >80</text>
<text x="53.00" y="1654.10" font-size="12.8" text-anchor="end" >100</text>
<line x1="126.10" y1="1907.00" x2="126.10" y2="1914.80" stroke="#111" stroke-width="2.0" />
<line x1="190.30" y1="1907.00" x2="190.30" y2="1914.80" stroke="#111" stroke-width="2.0" />
<line x1="251.40" y1="1907.00" x2="251.40" y2="1914.80" stroke="#111" stroke-width="2.0" />
<line x1="312.10" y1="1907.00" x2="312.10" y2="1914.80" stroke="#111" stroke-width="2.0" />
<line x1="145.43" y1="1907.00" x2="145.43" y2="1910.90" stroke="#111" stroke-width="1.3" />
<line x1="156.73" y1="1907.00" x2="156.73" y2="1910.90" stroke="#111" stroke-width="1.3" />
<line x1="164.75" y1="1907.00" x2="164.75" y2="1910.90" stroke="#111" stroke-width="1.3" />
<line x1="170.97" y1="1907.00" x2="170.97" y2="1912.80" stroke="#111" stroke-width="1.3" />
<line x1="176.06" y1="1907.00" x2="176.06" y2="1910.90" stroke="#111" stroke-width="1.3" />
<line x1="180.36" y1="1907.00" x2="180.36" y2="1910.90" stroke="#111" stroke-width="1.3" />
<line x1="184.08" y1="1907.00" x2="184.08" y2="1910.90" stroke="#111" stroke-width="1.3" />
<line x1="187.36" y1="1907.00" x2="187.36" y2="1910.90" stroke="#111" stroke-width="1.3" />
<line x1="208.69" y1="1907.00" x2="208.69" y2="1910.90" stroke="#111" stroke-width="1.3" />
<line x1="219.45" y1="1907.00" x2="219.45" y2="1910.90" stroke="#111" stroke-width="1.3" />
<line x1="227.09" y1="1907.00" x2="227.09" y2="1910.90" stroke="#111" stroke-width="1.3" />
<line x1="233.01" y1="1907.00" x2="233.01" y2="1912.80" stroke="#111" stroke-width="1.3" />
<line x1="237.85" y1="1907.00" x2="237.85" y2="1910.90" stroke="#111" stroke-width="1.3" />
<line x1="241.94" y1="1907.00" x2="241.94" y2="1910.90" stroke="#111" stroke-width="1.3" />
<line x1="245.48" y1="1907.00" x2="245.48" y2="1910.90" stroke="#111" stroke-width="1.3" />
<line x1="248.60" y1="1907.00" x2="248.60" y2="1910.90" stroke="#111" stroke-width="1.3" />
<line x1="269.67" y1="1907.00" x2="269.67" y2="1910.90" stroke="#111" stroke-width="1.3" />
<line x1="280.36" y1="1907.00" x2="280.36" y2="1910.90" stroke="#111" stroke-width="1.3" />
<line x1="287.95" y1="1907.00" x2="287.95" y2="1910.90" stroke="#111" stroke-width="1.3" />
<line x1="293.83" y1="1907.00" x2="293.83" y2="1912.80" stroke="#111" stroke-width="1.3" />
<line x1="298.63" y1="1907.00" x2="298.63" y2="1910.90" stroke="#111" stroke-width="1.3" />
<line x1="302.70" y1="1907.00" x2="302.70" y2="1910.90" stroke="#111" stroke-width="1.3" />
<line x1="306.22" y1="1907.00" x2="306.22" y2="1910.90" stroke="#111" stroke-width="1.3" />
<line x1="309.32" y1="1907.00" x2="309.32" y2="1910.90" stroke="#111" stroke-width="1.3" />
<line x1="330.46" y1="1907.00" x2="330.46" y2="1910.90" stroke="#111" stroke-width="1.3" />
<line x1="72.30" y1="1907.00" x2="72.30" y2="1910.90" stroke="#111" stroke-width="1.3" />
<line x1="74.80" y1="1907.00" x2="74.80" y2="1910.90" stroke="#111" stroke-width="1.3" />
<line x1="77.00" y1="1907.00" x2="77.00" y2="1910.90" stroke="#111" stroke-width="1.3" />
<line x1="81.00" y1="1907.00" x2="81.00" y2="1910.90" stroke="#111" stroke-width="1.3" />
<line x1="83.20" y1="1907.00" x2="83.20" y2="1910.90" stroke="#111" stroke-width="1.3" />
<line x1="85.40" y1="1907.00" x2="85.40" y2="1910.90" stroke="#111" stroke-width="1.3" />
<line x1="87.60" y1="1907.00" x2="87.60" y2="1910.90" stroke="#111" stroke-width="1.3" />
<line x1="102.30" y1="1907.00" x2="102.30" y2="1910.90" stroke="#111" stroke-width="1.3" />
<line x1="104.80" y1="1907.00" x2="104.80" y2="1910.90" stroke="#111" stroke-width="1.3" />
<line x1="107.30" y1="1907.00" x2="107.30" y2="1910.90" stroke="#111" stroke-width="1.3" />
<line x1="109.30" y1="1907.00" x2="109.30" y2="1910.90" stroke="#111" stroke-width="1.3" />
<line x1="114.10" y1="1907.00" x2="114.10" y2="1910.90" stroke="#111" stroke-width="1.3" />
<line x1="116.50" y1="1907.00" x2="116.50" y2="1910.90" stroke="#111" stroke-width="1.3" />
<line x1="119.00" y1="1907.00" x2="119.00" y2="1910.90" stroke="#111" stroke-width="1.3" />
<line x1="121.10" y1="1907.00" x2="121.10" y2="1910.90" stroke="#111" stroke-width="1.3" />
<line x1="123.50" y1="1907.00" x2="123.50" y2="1910.90" stroke="#111" stroke-width="1.3" />
<line x1="78.70" y1="1907.00" x2="78.70" y2="1912.80" stroke="#111" stroke-width="1.3" />
<line x1="111.70" y1="1907.00" x2="111.70" y2="1912.80" stroke="#111" stroke-width="1.3" />
<rect x="91" y="1907.0" width="8" height="7.8" fill="#111"/>
<text x="96.90" y="1937.70" font-size="11" text-anchor="middle" >0</text>
<text x="185.40" y="1937.70" font-size="11" text-anchor="start" >10</text>
<text x="247.90" y="1937.70" font-size="11" text-anchor="start" >10</text>
<text x="307.40" y="1937.70" font-size="11" text-anchor="start" >10</text>
<text x="203.50" y="1927.00" font-size="11" text-anchor="start" >3</text>
<text x="265.50" y="1927.00" font-size="11" text-anchor="start" >4</text>
<text x="326.20" y="1927.00" font-size="11" text-anchor="start" >5</text>
<text transform="translate(68.00,1965.90) scale(0.9615,1)" font-size="30.16" text-anchor="start" >CTV</text>
<line x1="159.20" y1="1959.10" x2="340.00" y2="1959.10" stroke="#000" stroke-width="3.6" />
<text transform="translate(23.80,1775.60) rotate(-90) scale(0.9615,1)" font-size="30.78" text-anchor="middle" >Normalized to mode</text>
<circle cx="884.20" cy="125.90" r="11.6" fill="#ffffff" stroke="#000" stroke-width="1.3"/>
<circle cx="884.20" cy="179.70" r="11.6" fill="#e03022" stroke="#000" stroke-width="1.3"/>
<circle cx="884.20" cy="240.80" r="11.6" fill="#808080" stroke="#000" stroke-width="1.3"/>
<text transform="translate(910.10,134.80) scale(0.9615,1)" font-size="30.16">TOM<tspan font-size="18.1" dy="-11.5">-</tspan><tspan dy="11.5" dx="4.37">DC2</tspan></text>
<text transform="translate(910.10,188.40) scale(0.9615,1)" font-size="30.16">TOM<tspan font-size="18.1" dy="-11.5">+</tspan><tspan dy="11.5" dx="-1.56"> cDC2</tspan></text>
<text transform="translate(910.10,251.90) scale(0.9615,1)" font-size="30.16" text-anchor="start" >DC2 isotype-OVA</text>
<line x1="1072.50" y1="108.50" x2="1072.50" y2="200.30" stroke="#000" stroke-width="1.3" />
<text transform="translate(1080.00,162.60) scale(0.9615,1)" font-size="30.16" text-anchor="start" >aDCIR2-OVA</text>
<circle cx="894.00" cy="983.00" r="11.6" fill="#ffffff" stroke="#000" stroke-width="1.3"/>
<circle cx="893.00" cy="1045.10" r="11.6" fill="#e03022" stroke="#000" stroke-width="1.3"/>
<circle cx="894.00" cy="1101.00" r="11.6" fill="#4650ad" stroke="#000" stroke-width="1.3"/>
<text transform="translate(919.40,990.60) scale(0.9615,1)" font-size="30.16">TOM<tspan font-size="18.1" dy="-11.5">-</tspan><tspan dy="11.5" dx="4.37">DC2</tspan></text>
<text transform="translate(919.40,1052.80) scale(0.9615,1)" font-size="30.16">TOM<tspan font-size="18.1" dy="-11.5">+</tspan><tspan dy="11.5" dx="-1.56"> cDC2</tspan></text>
<text transform="translate(919.40,1111.30) scale(0.9615,1)" font-size="30.16">TOM<tspan font-size="18.1" dy="-11.5">+</tspan><tspan dy="11.5" dx="-1.56"> cDC2 adult</tspan></text>
<line x1="1080.70" y1="969.70" x2="1080.70" y2="1060.60" stroke="#000" stroke-width="1.3" />
<text transform="translate(1089.00,1023.60) scale(0.9615,1)" font-size="30.16" text-anchor="start" >young</text>
<path d="M1167.3,962.8 Q1182.8,962.8 1182.8,968 L1182.8,1111.5 Q1182.8,1116.8 1167.3,1116.8 M1182.8,1039.2 L1198.7,1039.2" fill="none" stroke="#333" stroke-width="1.3"/>
<text transform="translate(1209.00,1052.80) scale(0.9615,1)" font-size="30.16" text-anchor="start" >CpG-B</text>
<circle cx="885.70" cy="1667.60" r="11.6" fill="#ffffff" stroke="#000" stroke-width="1.3"/>
<circle cx="884.50" cy="1729.80" r="11.6" fill="#e03022" stroke="#000" stroke-width="1.3"/>
<circle cx="885.70" cy="1785.20" r="11.6" fill="#4650ad" stroke="#000" stroke-width="1.3"/>
<circle cx="885.70" cy="1839.90" r="11.6" fill="#3d3d3d" stroke="#000" stroke-width="1.3"/>
<text transform="translate(910.30,1675.80) scale(0.9615,1)" font-size="30.16">TOM<tspan font-size="18.1" dy="-11.5">-</tspan><tspan dy="11.5" dx="4.37">DC2</tspan></text>
<text transform="translate(910.30,1737.80) scale(0.9615,1)" font-size="30.16">TOM<tspan font-size="18.1" dy="-11.5">+</tspan><tspan dy="11.5" dx="-1.56"> cDC2</tspan></text>
<text transform="translate(910.30,1795.90) scale(0.9615,1)" font-size="30.16">TOM<tspan font-size="18.1" dy="-11.5">+</tspan><tspan dy="11.5" dx="-1.56"> cDC2 adult</tspan></text>
<text transform="translate(910.30,1850.60) scale(0.9615,1)" font-size="30.16" text-anchor="start" >cDC1 young</text>
<line x1="1072.70" y1="1653.50" x2="1072.70" y2="1745.80" stroke="#000" stroke-width="1.3" />
<text transform="translate(1080.10,1708.30) scale(0.9615,1)" font-size="30.16" text-anchor="start" >young</text>
<circle cx="1151.90" cy="2243.30" r="11.6" fill="#ffffff" stroke="#000" stroke-width="1.3"/>
<circle cx="1151.90" cy="2305.60" r="11.6" fill="#e03022" stroke="#000" stroke-width="1.3"/>
<circle cx="1151.90" cy="2361.80" r="11.6" fill="#4650ad" stroke="#000" stroke-width="1.3"/>
<text transform="translate(1175.60,2251.40) scale(0.9615,1)" font-size="30.16">TOM<tspan font-size="18.1" dy="-11.5">-</tspan><tspan dy="11.5" dx="4.37">DC2</tspan></text>
<text transform="translate(1175.60,2313.50) scale(0.9615,1)" font-size="30.16">TOM<tspan font-size="18.1" dy="-11.5">+</tspan><tspan dy="11.5" dx="-1.56"> cDC2</tspan></text>
<text transform="translate(1175.60,2372.50) scale(0.9615,1)" font-size="30.16">TOM<tspan font-size="18.1" dy="-11.5">+</tspan><tspan dy="11.5" dx="-1.56"> cDC2 adult</tspan></text>
<line x1="1338.30" y1="2230.20" x2="1338.30" y2="2321.50" stroke="#000" stroke-width="1.3" />
<text transform="translate(1346.20,2283.70) scale(0.9615,1)" font-size="30.16" text-anchor="start" >young</text>
<text x="-1.50" y="27.00" font-size="51.5" text-anchor="start" font-weight="bold" >a</text>
<text x="-2.00" y="595.50" font-size="51.5" text-anchor="start" font-weight="bold" >b</text>
<text x="-1.50" y="1604.50" font-size="51.5" text-anchor="start" font-weight="bold" >c</text>
<text x="-2.00" y="2106.00" font-size="51.5" text-anchor="start" font-weight="bold" >d</text>
</svg></body></html>
